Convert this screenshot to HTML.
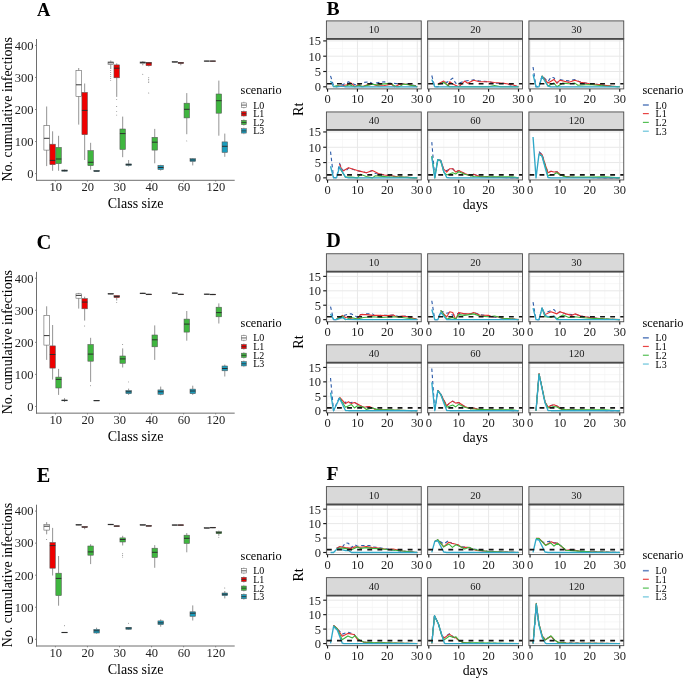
<!DOCTYPE html>
<html><head><meta charset="utf-8"><style>
html,body{margin:0;padding:0;background:#fff;}
svg{display:block;font-family:"Liberation Serif", serif;filter:blur(0.35px);}
</style></head><body>
<svg width="685" height="678" viewBox="0 0 685 678">
<rect width="685" height="678" fill="#fff"/>
<text x="36.9" y="15.5" font-size="18.5" font-weight="bold" fill="#000">A</text>
<line x1="36.5" y1="39" x2="36.5" y2="180.8" stroke="#6e6e6e" stroke-width="1"/>
<line x1="36" y1="180.3" x2="234.7" y2="180.3" stroke="#6e6e6e" stroke-width="1"/>
<line x1="35" y1="173.6" x2="36.5" y2="173.6" stroke="#6e6e6e" stroke-width="0.8"/>
<text x="33.6" y="177.9" font-size="12.5" fill="#1e1e1e" text-anchor="end">0</text>
<line x1="35" y1="141.55" x2="36.5" y2="141.55" stroke="#6e6e6e" stroke-width="0.8"/>
<text x="33.6" y="145.85" font-size="12.5" fill="#1e1e1e" text-anchor="end">100</text>
<line x1="35" y1="109.5" x2="36.5" y2="109.5" stroke="#6e6e6e" stroke-width="0.8"/>
<text x="33.6" y="113.8" font-size="12.5" fill="#1e1e1e" text-anchor="end">200</text>
<line x1="35" y1="77.45" x2="36.5" y2="77.45" stroke="#6e6e6e" stroke-width="0.8"/>
<text x="33.6" y="81.75" font-size="12.5" fill="#1e1e1e" text-anchor="end">300</text>
<line x1="35" y1="45.4" x2="36.5" y2="45.4" stroke="#6e6e6e" stroke-width="0.8"/>
<text x="33.6" y="49.7" font-size="12.5" fill="#1e1e1e" text-anchor="end">400</text>
<line x1="55.4" y1="180.3" x2="55.4" y2="181.6" stroke="#6e6e6e" stroke-width="0.8"/>
<text x="55.7" y="191.3" font-size="12.5" fill="#1e1e1e" text-anchor="middle">10</text>
<line x1="87.45" y1="180.3" x2="87.45" y2="181.6" stroke="#6e6e6e" stroke-width="0.8"/>
<text x="87.75" y="191.3" font-size="12.5" fill="#1e1e1e" text-anchor="middle">20</text>
<line x1="119.5" y1="180.3" x2="119.5" y2="181.6" stroke="#6e6e6e" stroke-width="0.8"/>
<text x="119.8" y="191.3" font-size="12.5" fill="#1e1e1e" text-anchor="middle">30</text>
<line x1="151.55" y1="180.3" x2="151.55" y2="181.6" stroke="#6e6e6e" stroke-width="0.8"/>
<text x="151.85" y="191.3" font-size="12.5" fill="#1e1e1e" text-anchor="middle">40</text>
<line x1="183.6" y1="180.3" x2="183.6" y2="181.6" stroke="#6e6e6e" stroke-width="0.8"/>
<text x="183.9" y="191.3" font-size="12.5" fill="#1e1e1e" text-anchor="middle">60</text>
<line x1="215.65" y1="180.3" x2="215.65" y2="181.6" stroke="#6e6e6e" stroke-width="0.8"/>
<text x="215.95" y="191.3" font-size="12.5" fill="#1e1e1e" text-anchor="middle">120</text>
<text x="135.6" y="208.3" font-size="14" fill="#000" text-anchor="middle">Class size</text>
<text transform="translate(12.1,109.3) rotate(-90)" font-size="13.95" fill="#000" text-anchor="middle">No. cumulative infections</text>
<line x1="46.66" y1="106.5" x2="46.66" y2="125.7" stroke="#666" stroke-width="0.7"/>
<line x1="46.66" y1="150.1" x2="46.66" y2="166.1" stroke="#666" stroke-width="0.7"/>
<rect x="43.91" y="125.7" width="5.5" height="24.4" fill="#ffffff" stroke="#555" stroke-width="0.55"/>
<line x1="43.91" y1="138.3" x2="49.41" y2="138.3" stroke="#2a2a2a" stroke-width="0.95"/>
<line x1="52.62" y1="131.3" x2="52.62" y2="144.2" stroke="#666" stroke-width="0.7"/>
<line x1="52.62" y1="164.7" x2="52.62" y2="170.8" stroke="#666" stroke-width="0.7"/>
<rect x="49.87" y="144.2" width="5.5" height="20.5" fill="#ee0000" stroke="#555" stroke-width="0.55"/>
<line x1="49.87" y1="160.4" x2="55.37" y2="160.4" stroke="#2a2a2a" stroke-width="0.95"/>
<line x1="58.58" y1="135.8" x2="58.58" y2="147.4" stroke="#666" stroke-width="0.7"/>
<line x1="58.58" y1="163.7" x2="58.58" y2="170.8" stroke="#666" stroke-width="0.7"/>
<rect x="55.83" y="147.4" width="5.5" height="16.3" fill="#3fb63f" stroke="#555" stroke-width="0.55"/>
<line x1="55.83" y1="159" x2="61.33" y2="159" stroke="#2a2a2a" stroke-width="0.95"/>
<line x1="64.54" y1="169.5" x2="64.54" y2="170" stroke="#666" stroke-width="0.7"/>
<line x1="64.54" y1="171.2" x2="64.54" y2="171.6" stroke="#666" stroke-width="0.7"/>
<rect x="61.79" y="170" width="5.5" height="1.2" fill="#1a9cbc" stroke="#555" stroke-width="0.55"/>
<line x1="61.79" y1="170.6" x2="67.29" y2="170.6" stroke="#2a2a2a" stroke-width="0.95"/>
<line x1="78.71" y1="68" x2="78.71" y2="70.6" stroke="#666" stroke-width="0.7"/>
<line x1="78.71" y1="96.3" x2="78.71" y2="124.6" stroke="#666" stroke-width="0.7"/>
<rect x="75.96" y="70.6" width="5.5" height="25.7" fill="#ffffff" stroke="#555" stroke-width="0.55"/>
<line x1="75.96" y1="84.8" x2="81.46" y2="84.8" stroke="#2a2a2a" stroke-width="0.95"/>
<line x1="84.67" y1="83.5" x2="84.67" y2="92.4" stroke="#666" stroke-width="0.7"/>
<line x1="84.67" y1="134.7" x2="84.67" y2="160" stroke="#666" stroke-width="0.7"/>
<rect x="81.92" y="92.4" width="5.5" height="42.3" fill="#ee0000" stroke="#555" stroke-width="0.55"/>
<line x1="81.92" y1="110.4" x2="87.42" y2="110.4" stroke="#2a2a2a" stroke-width="0.95"/>
<line x1="90.63" y1="142.8" x2="90.63" y2="150.6" stroke="#666" stroke-width="0.7"/>
<line x1="90.63" y1="165.7" x2="90.63" y2="169.7" stroke="#666" stroke-width="0.7"/>
<rect x="87.88" y="150.6" width="5.5" height="15.1" fill="#3fb63f" stroke="#555" stroke-width="0.55"/>
<line x1="87.88" y1="162.3" x2="93.38" y2="162.3" stroke="#2a2a2a" stroke-width="0.95"/>
<line x1="96.59" y1="170.3" x2="96.59" y2="170.5" stroke="#666" stroke-width="0.7"/>
<line x1="96.59" y1="171.5" x2="96.59" y2="171.8" stroke="#666" stroke-width="0.7"/>
<rect x="93.84" y="170.5" width="5.5" height="1" fill="#1a9cbc" stroke="#555" stroke-width="0.55"/>
<line x1="93.84" y1="171" x2="99.34" y2="171" stroke="#2a2a2a" stroke-width="0.95"/>
<line x1="110.76" y1="60.5" x2="110.76" y2="61.9" stroke="#666" stroke-width="0.7"/>
<line x1="110.76" y1="64.4" x2="110.76" y2="69" stroke="#666" stroke-width="0.7"/>
<rect x="108.01" y="61.9" width="5.5" height="2.5" fill="#ffffff" stroke="#555" stroke-width="0.55"/>
<line x1="108.01" y1="62.8" x2="113.51" y2="62.8" stroke="#2a2a2a" stroke-width="0.95"/>
<circle cx="110.76" cy="70.5" r="0.45" fill="#444"/>
<circle cx="110.76" cy="72.5" r="0.45" fill="#444"/>
<circle cx="110.76" cy="74.5" r="0.45" fill="#444"/>
<circle cx="110.76" cy="76.5" r="0.45" fill="#444"/>
<circle cx="110.76" cy="78.5" r="0.45" fill="#444"/>
<circle cx="110.76" cy="80.6" r="0.45" fill="#444"/>
<line x1="116.72" y1="63.4" x2="116.72" y2="64.9" stroke="#666" stroke-width="0.7"/>
<line x1="116.72" y1="77.8" x2="116.72" y2="96.9" stroke="#666" stroke-width="0.7"/>
<rect x="113.97" y="64.9" width="5.5" height="12.9" fill="#ee0000" stroke="#555" stroke-width="0.55"/>
<line x1="113.97" y1="68.2" x2="119.47" y2="68.2" stroke="#2a2a2a" stroke-width="0.95"/>
<circle cx="116.72" cy="99.4" r="0.45" fill="#444"/>
<circle cx="116.72" cy="106.5" r="0.45" fill="#444"/>
<circle cx="116.72" cy="111.6" r="0.45" fill="#444"/>
<circle cx="116.72" cy="115.1" r="0.45" fill="#444"/>
<line x1="122.68" y1="116.6" x2="122.68" y2="129" stroke="#666" stroke-width="0.7"/>
<line x1="122.68" y1="149.5" x2="122.68" y2="157.2" stroke="#666" stroke-width="0.7"/>
<rect x="119.93" y="129" width="5.5" height="20.5" fill="#3fb63f" stroke="#555" stroke-width="0.55"/>
<line x1="119.93" y1="133.6" x2="125.43" y2="133.6" stroke="#2a2a2a" stroke-width="0.95"/>
<line x1="128.64" y1="160" x2="128.64" y2="163.9" stroke="#666" stroke-width="0.7"/>
<line x1="128.64" y1="165.4" x2="128.64" y2="166.5" stroke="#666" stroke-width="0.7"/>
<rect x="125.89" y="163.9" width="5.5" height="1.5" fill="#1a9cbc" stroke="#555" stroke-width="0.55"/>
<line x1="125.89" y1="164.6" x2="131.39" y2="164.6" stroke="#2a2a2a" stroke-width="0.95"/>
<line x1="142.81" y1="61" x2="142.81" y2="61.9" stroke="#666" stroke-width="0.7"/>
<line x1="142.81" y1="63.5" x2="142.81" y2="65.3" stroke="#666" stroke-width="0.7"/>
<rect x="140.06" y="61.9" width="5.5" height="1.6" fill="#ffffff" stroke="#555" stroke-width="0.55"/>
<line x1="140.06" y1="62.5" x2="145.56" y2="62.5" stroke="#2a2a2a" stroke-width="0.95"/>
<circle cx="142.81" cy="74.3" r="0.45" fill="#444"/>
<line x1="148.77" y1="62" x2="148.77" y2="62.4" stroke="#666" stroke-width="0.7"/>
<line x1="148.77" y1="65.7" x2="148.77" y2="66.5" stroke="#666" stroke-width="0.7"/>
<rect x="146.02" y="62.4" width="5.5" height="3.3" fill="#ee0000" stroke="#555" stroke-width="0.55"/>
<line x1="146.02" y1="63" x2="151.52" y2="63" stroke="#2a2a2a" stroke-width="0.95"/>
<circle cx="148.77" cy="77.7" r="0.45" fill="#444"/>
<circle cx="148.77" cy="79.5" r="0.45" fill="#444"/>
<circle cx="148.77" cy="81" r="0.45" fill="#444"/>
<circle cx="148.77" cy="82.5" r="0.45" fill="#444"/>
<circle cx="148.77" cy="93" r="0.45" fill="#444"/>
<line x1="154.73" y1="128.9" x2="154.73" y2="137.3" stroke="#666" stroke-width="0.7"/>
<line x1="154.73" y1="150.1" x2="154.73" y2="163.3" stroke="#666" stroke-width="0.7"/>
<rect x="151.98" y="137.3" width="5.5" height="12.8" fill="#3fb63f" stroke="#555" stroke-width="0.55"/>
<line x1="151.98" y1="142.2" x2="157.48" y2="142.2" stroke="#2a2a2a" stroke-width="0.95"/>
<line x1="160.69" y1="164.8" x2="160.69" y2="165.4" stroke="#666" stroke-width="0.7"/>
<line x1="160.69" y1="169.6" x2="160.69" y2="170.6" stroke="#666" stroke-width="0.7"/>
<rect x="157.94" y="165.4" width="5.5" height="4.2" fill="#1a9cbc" stroke="#555" stroke-width="0.55"/>
<line x1="157.94" y1="167.5" x2="163.44" y2="167.5" stroke="#2a2a2a" stroke-width="0.95"/>
<line x1="174.86" y1="61.3" x2="174.86" y2="61.6" stroke="#666" stroke-width="0.7"/>
<line x1="174.86" y1="62.3" x2="174.86" y2="62.6" stroke="#666" stroke-width="0.7"/>
<rect x="172.11" y="61.6" width="5.5" height="0.7" fill="#ffffff" stroke="#555" stroke-width="0.55"/>
<line x1="172.11" y1="61.9" x2="177.61" y2="61.9" stroke="#2a2a2a" stroke-width="0.95"/>
<line x1="180.82" y1="62" x2="180.82" y2="62.4" stroke="#666" stroke-width="0.7"/>
<line x1="180.82" y1="63.4" x2="180.82" y2="65.3" stroke="#666" stroke-width="0.7"/>
<rect x="178.07" y="62.4" width="5.5" height="1" fill="#ee0000" stroke="#555" stroke-width="0.55"/>
<line x1="178.07" y1="62.9" x2="183.57" y2="62.9" stroke="#2a2a2a" stroke-width="0.95"/>
<line x1="186.78" y1="93.1" x2="186.78" y2="103.2" stroke="#666" stroke-width="0.7"/>
<line x1="186.78" y1="117.9" x2="186.78" y2="134.2" stroke="#666" stroke-width="0.7"/>
<rect x="184.03" y="103.2" width="5.5" height="14.7" fill="#3fb63f" stroke="#555" stroke-width="0.55"/>
<line x1="184.03" y1="109.3" x2="189.53" y2="109.3" stroke="#2a2a2a" stroke-width="0.95"/>
<circle cx="186.78" cy="140.9" r="0.45" fill="#444"/>
<line x1="192.74" y1="158.1" x2="192.74" y2="158.7" stroke="#666" stroke-width="0.7"/>
<line x1="192.74" y1="161.4" x2="192.74" y2="165.4" stroke="#666" stroke-width="0.7"/>
<rect x="189.99" y="158.7" width="5.5" height="2.7" fill="#1a9cbc" stroke="#555" stroke-width="0.55"/>
<line x1="189.99" y1="160" x2="195.49" y2="160" stroke="#2a2a2a" stroke-width="0.95"/>
<line x1="206.91" y1="60.7" x2="206.91" y2="60.9" stroke="#666" stroke-width="0.7"/>
<line x1="206.91" y1="61.4" x2="206.91" y2="61.6" stroke="#666" stroke-width="0.7"/>
<rect x="204.16" y="60.9" width="5.5" height="0.5" fill="#ffffff" stroke="#555" stroke-width="0.55"/>
<line x1="204.16" y1="61.1" x2="209.66" y2="61.1" stroke="#2a2a2a" stroke-width="0.95"/>
<line x1="212.87" y1="60.7" x2="212.87" y2="60.9" stroke="#666" stroke-width="0.7"/>
<line x1="212.87" y1="61.4" x2="212.87" y2="61.6" stroke="#666" stroke-width="0.7"/>
<rect x="210.12" y="60.9" width="5.5" height="0.5" fill="#ee0000" stroke="#555" stroke-width="0.55"/>
<line x1="210.12" y1="61.1" x2="215.62" y2="61.1" stroke="#2a2a2a" stroke-width="0.95"/>
<line x1="218.83" y1="80.6" x2="218.83" y2="94" stroke="#666" stroke-width="0.7"/>
<line x1="218.83" y1="113.2" x2="218.83" y2="135.7" stroke="#666" stroke-width="0.7"/>
<rect x="216.08" y="94" width="5.5" height="19.2" fill="#3fb63f" stroke="#555" stroke-width="0.55"/>
<line x1="216.08" y1="100.7" x2="221.58" y2="100.7" stroke="#2a2a2a" stroke-width="0.95"/>
<line x1="224.79" y1="133.6" x2="224.79" y2="141.9" stroke="#666" stroke-width="0.7"/>
<line x1="224.79" y1="152.4" x2="224.79" y2="156.8" stroke="#666" stroke-width="0.7"/>
<rect x="222.04" y="141.9" width="5.5" height="10.5" fill="#1a9cbc" stroke="#555" stroke-width="0.55"/>
<line x1="222.04" y1="146.3" x2="227.54" y2="146.3" stroke="#2a2a2a" stroke-width="0.95"/>
<text x="240.6" y="94.1" font-size="12.3" fill="#000">scenario</text>
<line x1="243.85" y1="101.7" x2="243.85" y2="108.5" stroke="#777" stroke-width="0.5"/>
<rect x="241.4" y="102.9" width="4.9" height="4.4" fill="#ffffff" stroke="#555" stroke-width="0.5"/>
<line x1="241.4" y1="105.1" x2="246.3" y2="105.1" stroke="#333" stroke-width="0.8"/>
<text x="253.2" y="108.5" font-size="10" fill="#000">L0</text>
<line x1="243.85" y1="110.35" x2="243.85" y2="117.15" stroke="#777" stroke-width="0.5"/>
<rect x="241.4" y="111.55" width="4.9" height="4.4" fill="#ee0000" stroke="#555" stroke-width="0.5"/>
<line x1="241.4" y1="113.75" x2="246.3" y2="113.75" stroke="#333" stroke-width="0.8"/>
<text x="253.2" y="117.15" font-size="10" fill="#000">L1</text>
<line x1="243.85" y1="119.1" x2="243.85" y2="125.9" stroke="#777" stroke-width="0.5"/>
<rect x="241.4" y="120.3" width="4.9" height="4.4" fill="#3fb63f" stroke="#555" stroke-width="0.5"/>
<line x1="241.4" y1="122.5" x2="246.3" y2="122.5" stroke="#333" stroke-width="0.8"/>
<text x="253.2" y="125.9" font-size="10" fill="#000">L2</text>
<line x1="243.85" y1="127.5" x2="243.85" y2="134.3" stroke="#777" stroke-width="0.5"/>
<rect x="241.4" y="128.7" width="4.9" height="4.4" fill="#1a9cbc" stroke="#555" stroke-width="0.5"/>
<line x1="241.4" y1="130.9" x2="246.3" y2="130.9" stroke="#333" stroke-width="0.8"/>
<text x="253.2" y="134.3" font-size="10" fill="#000">L3</text>
<text x="326.4" y="14.5" font-size="19.6" font-weight="bold" fill="#000">B</text>
<rect x="326.4" y="38.8" width="94.85" height="50.1" fill="#fff"/>
<line x1="326.4" y1="79.15" x2="421.25" y2="79.15" stroke="#f3f3f3" stroke-width="0.6"/>
<line x1="326.4" y1="63.85" x2="421.25" y2="63.85" stroke="#f3f3f3" stroke-width="0.6"/>
<line x1="326.4" y1="48.55" x2="421.25" y2="48.55" stroke="#f3f3f3" stroke-width="0.6"/>
<line x1="342.5" y1="38.8" x2="342.5" y2="88.9" stroke="#f3f3f3" stroke-width="0.6"/>
<line x1="372.4" y1="38.8" x2="372.4" y2="88.9" stroke="#f3f3f3" stroke-width="0.6"/>
<line x1="402.3" y1="38.8" x2="402.3" y2="88.9" stroke="#f3f3f3" stroke-width="0.6"/>
<line x1="326.4" y1="86.8" x2="421.25" y2="86.8" stroke="#e8e8e8" stroke-width="1"/>
<line x1="326.4" y1="71.5" x2="421.25" y2="71.5" stroke="#e8e8e8" stroke-width="1"/>
<line x1="326.4" y1="56.2" x2="421.25" y2="56.2" stroke="#e8e8e8" stroke-width="1"/>
<line x1="326.4" y1="40.9" x2="421.25" y2="40.9" stroke="#e8e8e8" stroke-width="1"/>
<line x1="327.55" y1="38.8" x2="327.55" y2="88.9" stroke="#e8e8e8" stroke-width="1"/>
<line x1="357.45" y1="38.8" x2="357.45" y2="88.9" stroke="#e8e8e8" stroke-width="1"/>
<line x1="387.35" y1="38.8" x2="387.35" y2="88.9" stroke="#e8e8e8" stroke-width="1"/>
<line x1="417.25" y1="38.8" x2="417.25" y2="88.9" stroke="#e8e8e8" stroke-width="1"/>
<polyline points="330.54,75.94 333.53,85.43 336.52,86.8 342.5,84.7 348.48,81.78 351.47,83.24 357.45,85.43 363.43,82.51 369.41,81.78 372.4,83.68 378.38,82.51 384.36,81.78 387.35,83.24 393.33,83.24 399.31,83.97 405.29,83.68 411.27,84.7 417.25,86.16" fill="none" stroke="#2c5aa8" stroke-width="1.1" stroke-dasharray="3.4,2.8" stroke-linejoin="round"/>
<polyline points="336.52,86.16 342.5,85.72 346.98,84.7 350.87,82.8 355.36,86.8 358.35,84.7 361.93,86.8 367.32,84.84 372.4,84.26 378.38,86.01 384.36,85.43 391.54,84.26 394.53,86.8 399.31,84.55 403.5,83.97 408.28,84.55 414.26,85.87 417.25,86.8" fill="none" stroke="#e53030" stroke-width="1.1" stroke-linejoin="round"/>
<polyline points="333.53,86.6 336.52,85.87 341,86.45 345.49,86.3 349.38,84.7 354.46,86.8 358.94,85.57 363.43,86.6 367.91,85.14 372.4,84.26 378.38,85.14 381.37,84.11 390.34,83.38 396.32,86.8 399.31,86.6 403.5,84.11 408.28,84.7 414.26,85.87 417.25,86.8" fill="none" stroke="#3cb43c" stroke-width="1.1" stroke-linejoin="round"/>
<polyline points="330.54,81.05 333.53,86.6 336.52,86.8 342.5,86.16 345.49,86.8 417.25,86.8" fill="none" stroke="#30a8c8" stroke-width="1.35" stroke-linejoin="round"/>
<line x1="326.4" y1="83.74" x2="421.25" y2="83.74" stroke="#151515" stroke-width="1.7" stroke-dasharray="4.85,5.25" stroke-dashoffset="9.6"/>
<rect x="326.4" y="38.8" width="94.85" height="50.1" fill="none" stroke="#4a4a4a" stroke-width="0.9"/>
<rect x="326.4" y="20.9" width="94.85" height="17.9" fill="#d9d9d9" stroke="#4a4a4a" stroke-width="0.9"/>
<line x1="326.4" y1="38.8" x2="421.25" y2="38.8" stroke="#4a4a4a" stroke-width="1.8"/>
<text x="374.12" y="33.25" font-size="10.5" fill="#1a1a1a" text-anchor="middle">10</text>
<line x1="327.55" y1="88.9" x2="327.55" y2="91.7" stroke="#1a1a1a" stroke-width="1.15"/>
<text x="327.55" y="103" font-size="12.5" fill="#1e1e1e" text-anchor="middle">0</text>
<line x1="357.45" y1="88.9" x2="357.45" y2="91.7" stroke="#1a1a1a" stroke-width="1.15"/>
<text x="357.45" y="103" font-size="12.5" fill="#1e1e1e" text-anchor="middle">10</text>
<line x1="387.35" y1="88.9" x2="387.35" y2="91.7" stroke="#1a1a1a" stroke-width="1.15"/>
<text x="387.35" y="103" font-size="12.5" fill="#1e1e1e" text-anchor="middle">20</text>
<line x1="417.25" y1="88.9" x2="417.25" y2="91.7" stroke="#1a1a1a" stroke-width="1.15"/>
<text x="417.25" y="103" font-size="12.5" fill="#1e1e1e" text-anchor="middle">30</text>
<rect x="427.65" y="38.8" width="94.85" height="50.1" fill="#fff"/>
<line x1="427.65" y1="79.15" x2="522.5" y2="79.15" stroke="#f3f3f3" stroke-width="0.6"/>
<line x1="427.65" y1="63.85" x2="522.5" y2="63.85" stroke="#f3f3f3" stroke-width="0.6"/>
<line x1="427.65" y1="48.55" x2="522.5" y2="48.55" stroke="#f3f3f3" stroke-width="0.6"/>
<line x1="443.75" y1="38.8" x2="443.75" y2="88.9" stroke="#f3f3f3" stroke-width="0.6"/>
<line x1="473.65" y1="38.8" x2="473.65" y2="88.9" stroke="#f3f3f3" stroke-width="0.6"/>
<line x1="503.55" y1="38.8" x2="503.55" y2="88.9" stroke="#f3f3f3" stroke-width="0.6"/>
<line x1="427.65" y1="86.8" x2="522.5" y2="86.8" stroke="#e8e8e8" stroke-width="1"/>
<line x1="427.65" y1="71.5" x2="522.5" y2="71.5" stroke="#e8e8e8" stroke-width="1"/>
<line x1="427.65" y1="56.2" x2="522.5" y2="56.2" stroke="#e8e8e8" stroke-width="1"/>
<line x1="427.65" y1="40.9" x2="522.5" y2="40.9" stroke="#e8e8e8" stroke-width="1"/>
<line x1="428.8" y1="38.8" x2="428.8" y2="88.9" stroke="#e8e8e8" stroke-width="1"/>
<line x1="458.7" y1="38.8" x2="458.7" y2="88.9" stroke="#e8e8e8" stroke-width="1"/>
<line x1="488.6" y1="38.8" x2="488.6" y2="88.9" stroke="#e8e8e8" stroke-width="1"/>
<line x1="518.5" y1="38.8" x2="518.5" y2="88.9" stroke="#e8e8e8" stroke-width="1"/>
<polyline points="431.79,75.5 434.78,86.8 437.77,86.8 443.75,81.05 446.74,82.51 452.72,78.13 455.71,83.24 458.7,83.24 464.68,81.05 470.66,80.32 473.65,79.88 479.63,81.05 488.6,81.78 494.58,83.24 503.55,83.24 509.53,84.7 518.5,86.8" fill="none" stroke="#2c5aa8" stroke-width="1.1" stroke-dasharray="3.4,2.8" stroke-linejoin="round"/>
<polyline points="437.77,83.97 443.75,81.05 448.23,86.16 449.73,81.78 452.72,83.97 458.7,86.8 464.68,81.05 467.67,83.24 473.65,80.32 479.63,81.78 488.6,81.78 494.58,82.51 503.55,83.24 512.52,84.7 518.5,86.8" fill="none" stroke="#e53030" stroke-width="1.1" stroke-linejoin="round"/>
<polyline points="437.77,84.7 443.75,82.51 449.73,86.8 458.7,86.8 473.65,86.8 488.6,86.8 494.58,85.43 500.56,86.8 518.5,86.8" fill="none" stroke="#3cb43c" stroke-width="1.1" stroke-linejoin="round"/>
<polyline points="431.79,79.59 434.78,86.8 437.77,86.8 443.75,86.8 518.5,86.8" fill="none" stroke="#30a8c8" stroke-width="1.35" stroke-linejoin="round"/>
<line x1="427.65" y1="83.74" x2="522.5" y2="83.74" stroke="#151515" stroke-width="1.7" stroke-dasharray="4.85,5.25" stroke-dashoffset="9.6"/>
<rect x="427.65" y="38.8" width="94.85" height="50.1" fill="none" stroke="#4a4a4a" stroke-width="0.9"/>
<rect x="427.65" y="20.9" width="94.85" height="17.9" fill="#d9d9d9" stroke="#4a4a4a" stroke-width="0.9"/>
<line x1="427.65" y1="38.8" x2="522.5" y2="38.8" stroke="#4a4a4a" stroke-width="1.8"/>
<text x="475.38" y="33.25" font-size="10.5" fill="#1a1a1a" text-anchor="middle">20</text>
<line x1="428.8" y1="88.9" x2="428.8" y2="91.7" stroke="#1a1a1a" stroke-width="1.15"/>
<text x="428.8" y="103" font-size="12.5" fill="#1e1e1e" text-anchor="middle">0</text>
<line x1="458.7" y1="88.9" x2="458.7" y2="91.7" stroke="#1a1a1a" stroke-width="1.15"/>
<text x="458.7" y="103" font-size="12.5" fill="#1e1e1e" text-anchor="middle">10</text>
<line x1="488.6" y1="88.9" x2="488.6" y2="91.7" stroke="#1a1a1a" stroke-width="1.15"/>
<text x="488.6" y="103" font-size="12.5" fill="#1e1e1e" text-anchor="middle">20</text>
<line x1="518.5" y1="88.9" x2="518.5" y2="91.7" stroke="#1a1a1a" stroke-width="1.15"/>
<text x="518.5" y="103" font-size="12.5" fill="#1e1e1e" text-anchor="middle">30</text>
<rect x="528.9" y="38.8" width="94.85" height="50.1" fill="#fff"/>
<line x1="528.9" y1="79.15" x2="623.75" y2="79.15" stroke="#f3f3f3" stroke-width="0.6"/>
<line x1="528.9" y1="63.85" x2="623.75" y2="63.85" stroke="#f3f3f3" stroke-width="0.6"/>
<line x1="528.9" y1="48.55" x2="623.75" y2="48.55" stroke="#f3f3f3" stroke-width="0.6"/>
<line x1="545" y1="38.8" x2="545" y2="88.9" stroke="#f3f3f3" stroke-width="0.6"/>
<line x1="574.9" y1="38.8" x2="574.9" y2="88.9" stroke="#f3f3f3" stroke-width="0.6"/>
<line x1="604.8" y1="38.8" x2="604.8" y2="88.9" stroke="#f3f3f3" stroke-width="0.6"/>
<line x1="528.9" y1="86.8" x2="623.75" y2="86.8" stroke="#e8e8e8" stroke-width="1"/>
<line x1="528.9" y1="71.5" x2="623.75" y2="71.5" stroke="#e8e8e8" stroke-width="1"/>
<line x1="528.9" y1="56.2" x2="623.75" y2="56.2" stroke="#e8e8e8" stroke-width="1"/>
<line x1="528.9" y1="40.9" x2="623.75" y2="40.9" stroke="#e8e8e8" stroke-width="1"/>
<line x1="530.05" y1="38.8" x2="530.05" y2="88.9" stroke="#e8e8e8" stroke-width="1"/>
<line x1="559.95" y1="38.8" x2="559.95" y2="88.9" stroke="#e8e8e8" stroke-width="1"/>
<line x1="589.85" y1="38.8" x2="589.85" y2="88.9" stroke="#e8e8e8" stroke-width="1"/>
<line x1="619.75" y1="38.8" x2="619.75" y2="88.9" stroke="#e8e8e8" stroke-width="1"/>
<polyline points="533.04,67.02 536.03,86.8 539.02,86.8 542.01,75.78 547.99,81.62 550.98,77.24 553.97,77.68 556.96,83.08 559.95,79.43 562.94,80.16 568.92,80.89 574.9,79.43 580.88,82.35 589.85,83.81 598.82,84.54 607.79,86 619.75,86.8" fill="none" stroke="#2c5aa8" stroke-width="1.1" stroke-dasharray="3.4,2.8" stroke-linejoin="round"/>
<polyline points="542.01,75.78 547.99,83.08 553.97,79.43 556.96,83.08 559.95,80.16 568.92,82.35 574.9,80.16 580.88,82.35 589.85,83.81 598.82,84.54 610.78,86 619.75,86.8" fill="none" stroke="#e53030" stroke-width="1.1" stroke-linejoin="round"/>
<polyline points="542.01,75.78 547.99,86 553.97,83.08 556.96,86.73 562.94,83.08 568.92,83.81 574.9,83.08 577.89,85.27 589.85,84.54 604.8,86 619.75,86.8" fill="none" stroke="#3cb43c" stroke-width="1.1" stroke-linejoin="round"/>
<polyline points="533.04,74.32 536.03,86.8 539.02,86.8 542.01,76.51 547.99,86 550.98,86.8 619.75,86.8" fill="none" stroke="#30a8c8" stroke-width="1.35" stroke-linejoin="round"/>
<line x1="528.9" y1="83.74" x2="623.75" y2="83.74" stroke="#151515" stroke-width="1.7" stroke-dasharray="4.85,5.25" stroke-dashoffset="9.6"/>
<rect x="528.9" y="38.8" width="94.85" height="50.1" fill="none" stroke="#4a4a4a" stroke-width="0.9"/>
<rect x="528.9" y="20.9" width="94.85" height="17.9" fill="#d9d9d9" stroke="#4a4a4a" stroke-width="0.9"/>
<line x1="528.9" y1="38.8" x2="623.75" y2="38.8" stroke="#4a4a4a" stroke-width="1.8"/>
<text x="576.62" y="33.25" font-size="10.5" fill="#1a1a1a" text-anchor="middle">30</text>
<line x1="530.05" y1="88.9" x2="530.05" y2="91.7" stroke="#1a1a1a" stroke-width="1.15"/>
<text x="530.05" y="103" font-size="12.5" fill="#1e1e1e" text-anchor="middle">0</text>
<line x1="559.95" y1="88.9" x2="559.95" y2="91.7" stroke="#1a1a1a" stroke-width="1.15"/>
<text x="559.95" y="103" font-size="12.5" fill="#1e1e1e" text-anchor="middle">10</text>
<line x1="589.85" y1="88.9" x2="589.85" y2="91.7" stroke="#1a1a1a" stroke-width="1.15"/>
<text x="589.85" y="103" font-size="12.5" fill="#1e1e1e" text-anchor="middle">20</text>
<line x1="619.75" y1="88.9" x2="619.75" y2="91.7" stroke="#1a1a1a" stroke-width="1.15"/>
<text x="619.75" y="103" font-size="12.5" fill="#1e1e1e" text-anchor="middle">30</text>
<line x1="323.2" y1="86.8" x2="326.4" y2="86.8" stroke="#1a1a1a" stroke-width="1.15"/>
<text x="320.9" y="91.2" font-size="12.5" fill="#1e1e1e" text-anchor="end">0</text>
<line x1="323.2" y1="71.5" x2="326.4" y2="71.5" stroke="#1a1a1a" stroke-width="1.15"/>
<text x="320.9" y="75.9" font-size="12.5" fill="#1e1e1e" text-anchor="end">5</text>
<line x1="323.2" y1="56.2" x2="326.4" y2="56.2" stroke="#1a1a1a" stroke-width="1.15"/>
<text x="320.9" y="60.6" font-size="12.5" fill="#1e1e1e" text-anchor="end">10</text>
<line x1="323.2" y1="40.9" x2="326.4" y2="40.9" stroke="#1a1a1a" stroke-width="1.15"/>
<text x="320.9" y="45.3" font-size="12.5" fill="#1e1e1e" text-anchor="end">15</text>
<rect x="326.4" y="129.85" width="94.85" height="50.1" fill="#fff"/>
<line x1="326.4" y1="170.2" x2="421.25" y2="170.2" stroke="#f3f3f3" stroke-width="0.6"/>
<line x1="326.4" y1="154.9" x2="421.25" y2="154.9" stroke="#f3f3f3" stroke-width="0.6"/>
<line x1="326.4" y1="139.6" x2="421.25" y2="139.6" stroke="#f3f3f3" stroke-width="0.6"/>
<line x1="342.5" y1="129.85" x2="342.5" y2="179.95" stroke="#f3f3f3" stroke-width="0.6"/>
<line x1="372.4" y1="129.85" x2="372.4" y2="179.95" stroke="#f3f3f3" stroke-width="0.6"/>
<line x1="402.3" y1="129.85" x2="402.3" y2="179.95" stroke="#f3f3f3" stroke-width="0.6"/>
<line x1="326.4" y1="177.85" x2="421.25" y2="177.85" stroke="#e8e8e8" stroke-width="1"/>
<line x1="326.4" y1="162.55" x2="421.25" y2="162.55" stroke="#e8e8e8" stroke-width="1"/>
<line x1="326.4" y1="147.25" x2="421.25" y2="147.25" stroke="#e8e8e8" stroke-width="1"/>
<line x1="326.4" y1="131.95" x2="421.25" y2="131.95" stroke="#e8e8e8" stroke-width="1"/>
<line x1="327.55" y1="129.85" x2="327.55" y2="179.95" stroke="#e8e8e8" stroke-width="1"/>
<line x1="357.45" y1="129.85" x2="357.45" y2="179.95" stroke="#e8e8e8" stroke-width="1"/>
<line x1="387.35" y1="129.85" x2="387.35" y2="179.95" stroke="#e8e8e8" stroke-width="1"/>
<line x1="417.25" y1="129.85" x2="417.25" y2="179.95" stroke="#e8e8e8" stroke-width="1"/>
<polyline points="330.54,151.62 333.53,177.17 336.52,177.85 339.51,163.3 342.5,169.87 345.49,171.33 348.48,168.11 357.45,170.6 366.42,172.79 372.4,170.6 375.39,173.52 381.37,174.25 387.35,175.71 399.31,176.87 417.25,177.85" fill="none" stroke="#2c5aa8" stroke-width="1.1" stroke-dasharray="3.4,2.8" stroke-linejoin="round"/>
<polyline points="339.51,164.03 342.5,171.33 348.48,167.68 357.45,170.6 366.42,172.79 372.4,170.6 378.38,173.52 384.36,174.98 393.33,176 399.31,177.17 417.25,177.85" fill="none" stroke="#e53030" stroke-width="1.1" stroke-linejoin="round"/>
<polyline points="339.51,167.68 345.49,177.17 351.47,177.17 357.45,177.85 360.44,174.25 366.42,176.44 372.4,177.85 375.39,175.71 387.35,176.87 402.3,177.17 417.25,177.85" fill="none" stroke="#3cb43c" stroke-width="1.1" stroke-linejoin="round"/>
<polyline points="330.54,166.22 333.53,177.85 336.52,177.85 339.51,166.95 345.49,177.17 348.48,177.85 417.25,177.85" fill="none" stroke="#30a8c8" stroke-width="1.35" stroke-linejoin="round"/>
<line x1="326.4" y1="174.79" x2="421.25" y2="174.79" stroke="#151515" stroke-width="1.7" stroke-dasharray="4.85,5.25" stroke-dashoffset="9.6"/>
<rect x="326.4" y="129.85" width="94.85" height="50.1" fill="none" stroke="#4a4a4a" stroke-width="0.9"/>
<rect x="326.4" y="111.95" width="94.85" height="17.9" fill="#d9d9d9" stroke="#4a4a4a" stroke-width="0.9"/>
<line x1="326.4" y1="129.85" x2="421.25" y2="129.85" stroke="#4a4a4a" stroke-width="1.8"/>
<text x="374.12" y="124.3" font-size="10.5" fill="#1a1a1a" text-anchor="middle">40</text>
<line x1="327.55" y1="179.95" x2="327.55" y2="182.75" stroke="#1a1a1a" stroke-width="1.15"/>
<text x="327.55" y="194.05" font-size="12.5" fill="#1e1e1e" text-anchor="middle">0</text>
<line x1="357.45" y1="179.95" x2="357.45" y2="182.75" stroke="#1a1a1a" stroke-width="1.15"/>
<text x="357.45" y="194.05" font-size="12.5" fill="#1e1e1e" text-anchor="middle">10</text>
<line x1="387.35" y1="179.95" x2="387.35" y2="182.75" stroke="#1a1a1a" stroke-width="1.15"/>
<text x="387.35" y="194.05" font-size="12.5" fill="#1e1e1e" text-anchor="middle">20</text>
<line x1="417.25" y1="179.95" x2="417.25" y2="182.75" stroke="#1a1a1a" stroke-width="1.15"/>
<text x="417.25" y="194.05" font-size="12.5" fill="#1e1e1e" text-anchor="middle">30</text>
<rect x="427.65" y="129.85" width="94.85" height="50.1" fill="#fff"/>
<line x1="427.65" y1="170.2" x2="522.5" y2="170.2" stroke="#f3f3f3" stroke-width="0.6"/>
<line x1="427.65" y1="154.9" x2="522.5" y2="154.9" stroke="#f3f3f3" stroke-width="0.6"/>
<line x1="427.65" y1="139.6" x2="522.5" y2="139.6" stroke="#f3f3f3" stroke-width="0.6"/>
<line x1="443.75" y1="129.85" x2="443.75" y2="179.95" stroke="#f3f3f3" stroke-width="0.6"/>
<line x1="473.65" y1="129.85" x2="473.65" y2="179.95" stroke="#f3f3f3" stroke-width="0.6"/>
<line x1="503.55" y1="129.85" x2="503.55" y2="179.95" stroke="#f3f3f3" stroke-width="0.6"/>
<line x1="427.65" y1="177.85" x2="522.5" y2="177.85" stroke="#e8e8e8" stroke-width="1"/>
<line x1="427.65" y1="162.55" x2="522.5" y2="162.55" stroke="#e8e8e8" stroke-width="1"/>
<line x1="427.65" y1="147.25" x2="522.5" y2="147.25" stroke="#e8e8e8" stroke-width="1"/>
<line x1="427.65" y1="131.95" x2="522.5" y2="131.95" stroke="#e8e8e8" stroke-width="1"/>
<line x1="428.8" y1="129.85" x2="428.8" y2="179.95" stroke="#e8e8e8" stroke-width="1"/>
<line x1="458.7" y1="129.85" x2="458.7" y2="179.95" stroke="#e8e8e8" stroke-width="1"/>
<line x1="488.6" y1="129.85" x2="488.6" y2="179.95" stroke="#e8e8e8" stroke-width="1"/>
<line x1="518.5" y1="129.85" x2="518.5" y2="179.95" stroke="#e8e8e8" stroke-width="1"/>
<polyline points="431.79,142.13 434.78,177.85 437.77,160.38 440.76,161.11 443.75,169.87 446.74,170.6 449.73,169.14 452.72,168.7 455.71,172.06 458.7,170.6 464.68,173.52 470.66,175.71 473.65,174.25 479.63,176.44 488.6,177.17 518.5,177.85" fill="none" stroke="#2c5aa8" stroke-width="1.1" stroke-dasharray="3.4,2.8" stroke-linejoin="round"/>
<polyline points="437.77,159.65 440.76,160.38 443.75,169.14 446.74,172.06 449.73,168.7 452.72,168.7 455.71,172.06 458.7,170.6 464.68,173.52 470.66,175.71 473.65,174.25 479.63,176.44 488.6,177.17 518.5,177.85" fill="none" stroke="#e53030" stroke-width="1.1" stroke-linejoin="round"/>
<polyline points="431.79,156 434.78,177.85 437.77,159.65 440.76,161.11 443.75,172.06 446.74,174.98 452.72,172.79 455.71,173.95 458.7,171.76 464.68,174.25 473.65,176.44 488.6,176.87 512.52,176.87 518.5,177.85" fill="none" stroke="#3cb43c" stroke-width="1.1" stroke-linejoin="round"/>
<polyline points="431.79,156.73 434.78,177.85 437.77,159.65 440.76,160.38 443.75,171.33 446.74,177.46 449.73,177.85 518.5,177.85" fill="none" stroke="#30a8c8" stroke-width="1.35" stroke-linejoin="round"/>
<line x1="427.65" y1="174.79" x2="522.5" y2="174.79" stroke="#151515" stroke-width="1.7" stroke-dasharray="4.85,5.25" stroke-dashoffset="9.6"/>
<rect x="427.65" y="129.85" width="94.85" height="50.1" fill="none" stroke="#4a4a4a" stroke-width="0.9"/>
<rect x="427.65" y="111.95" width="94.85" height="17.9" fill="#d9d9d9" stroke="#4a4a4a" stroke-width="0.9"/>
<line x1="427.65" y1="129.85" x2="522.5" y2="129.85" stroke="#4a4a4a" stroke-width="1.8"/>
<text x="475.38" y="124.3" font-size="10.5" fill="#1a1a1a" text-anchor="middle">60</text>
<line x1="428.8" y1="179.95" x2="428.8" y2="182.75" stroke="#1a1a1a" stroke-width="1.15"/>
<text x="428.8" y="194.05" font-size="12.5" fill="#1e1e1e" text-anchor="middle">0</text>
<line x1="458.7" y1="179.95" x2="458.7" y2="182.75" stroke="#1a1a1a" stroke-width="1.15"/>
<text x="458.7" y="194.05" font-size="12.5" fill="#1e1e1e" text-anchor="middle">10</text>
<line x1="488.6" y1="179.95" x2="488.6" y2="182.75" stroke="#1a1a1a" stroke-width="1.15"/>
<text x="488.6" y="194.05" font-size="12.5" fill="#1e1e1e" text-anchor="middle">20</text>
<line x1="518.5" y1="179.95" x2="518.5" y2="182.75" stroke="#1a1a1a" stroke-width="1.15"/>
<text x="518.5" y="194.05" font-size="12.5" fill="#1e1e1e" text-anchor="middle">30</text>
<rect x="528.9" y="129.85" width="94.85" height="50.1" fill="#fff"/>
<line x1="528.9" y1="170.2" x2="623.75" y2="170.2" stroke="#f3f3f3" stroke-width="0.6"/>
<line x1="528.9" y1="154.9" x2="623.75" y2="154.9" stroke="#f3f3f3" stroke-width="0.6"/>
<line x1="528.9" y1="139.6" x2="623.75" y2="139.6" stroke="#f3f3f3" stroke-width="0.6"/>
<line x1="545" y1="129.85" x2="545" y2="179.95" stroke="#f3f3f3" stroke-width="0.6"/>
<line x1="574.9" y1="129.85" x2="574.9" y2="179.95" stroke="#f3f3f3" stroke-width="0.6"/>
<line x1="604.8" y1="129.85" x2="604.8" y2="179.95" stroke="#f3f3f3" stroke-width="0.6"/>
<line x1="528.9" y1="177.85" x2="623.75" y2="177.85" stroke="#e8e8e8" stroke-width="1"/>
<line x1="528.9" y1="162.55" x2="623.75" y2="162.55" stroke="#e8e8e8" stroke-width="1"/>
<line x1="528.9" y1="147.25" x2="623.75" y2="147.25" stroke="#e8e8e8" stroke-width="1"/>
<line x1="528.9" y1="131.95" x2="623.75" y2="131.95" stroke="#e8e8e8" stroke-width="1"/>
<line x1="530.05" y1="129.85" x2="530.05" y2="179.95" stroke="#e8e8e8" stroke-width="1"/>
<line x1="559.95" y1="129.85" x2="559.95" y2="179.95" stroke="#e8e8e8" stroke-width="1"/>
<line x1="589.85" y1="129.85" x2="589.85" y2="179.95" stroke="#e8e8e8" stroke-width="1"/>
<line x1="619.75" y1="129.85" x2="619.75" y2="179.95" stroke="#e8e8e8" stroke-width="1"/>
<polyline points="539.02,151.62 542.01,154.54 545,164.03 547.99,172.79 550.98,171.33 553.97,172.06 556.96,171.76 559.95,174.25 565.93,176.87 574.9,177.46 589.85,177.46 604.8,177.85 619.75,177.85" fill="none" stroke="#2c5aa8" stroke-width="1.1" stroke-dasharray="3.4,2.8" stroke-linejoin="round"/>
<polyline points="539.02,153.08 542.01,154.54 545,164.03 547.99,172.79 550.98,171.33 553.97,172.06 556.96,171.76 559.95,174.25 565.93,176.87 574.9,177.46 589.85,177.46 604.8,177.85 619.75,177.85" fill="none" stroke="#e53030" stroke-width="1.1" stroke-linejoin="round"/>
<polyline points="539.02,154.54 542.01,156 545,165.49 547.99,175.71 553.97,174.25 556.96,172.79 559.95,174.98 565.93,176.87 589.85,177.17 604.8,176.87 619.75,177.85" fill="none" stroke="#3cb43c" stroke-width="1.1" stroke-linejoin="round"/>
<polyline points="533.04,137.02 536.03,177.85 539.02,153.81 542.01,156 545,166.95 547.99,177.46 550.98,177.85 619.75,177.85" fill="none" stroke="#30a8c8" stroke-width="1.35" stroke-linejoin="round"/>
<line x1="528.9" y1="174.79" x2="623.75" y2="174.79" stroke="#151515" stroke-width="1.7" stroke-dasharray="4.85,5.25" stroke-dashoffset="9.6"/>
<rect x="528.9" y="129.85" width="94.85" height="50.1" fill="none" stroke="#4a4a4a" stroke-width="0.9"/>
<rect x="528.9" y="111.95" width="94.85" height="17.9" fill="#d9d9d9" stroke="#4a4a4a" stroke-width="0.9"/>
<line x1="528.9" y1="129.85" x2="623.75" y2="129.85" stroke="#4a4a4a" stroke-width="1.8"/>
<text x="576.62" y="124.3" font-size="10.5" fill="#1a1a1a" text-anchor="middle">120</text>
<line x1="530.05" y1="179.95" x2="530.05" y2="182.75" stroke="#1a1a1a" stroke-width="1.15"/>
<text x="530.05" y="194.05" font-size="12.5" fill="#1e1e1e" text-anchor="middle">0</text>
<line x1="559.95" y1="179.95" x2="559.95" y2="182.75" stroke="#1a1a1a" stroke-width="1.15"/>
<text x="559.95" y="194.05" font-size="12.5" fill="#1e1e1e" text-anchor="middle">10</text>
<line x1="589.85" y1="179.95" x2="589.85" y2="182.75" stroke="#1a1a1a" stroke-width="1.15"/>
<text x="589.85" y="194.05" font-size="12.5" fill="#1e1e1e" text-anchor="middle">20</text>
<line x1="619.75" y1="179.95" x2="619.75" y2="182.75" stroke="#1a1a1a" stroke-width="1.15"/>
<text x="619.75" y="194.05" font-size="12.5" fill="#1e1e1e" text-anchor="middle">30</text>
<line x1="323.2" y1="177.85" x2="326.4" y2="177.85" stroke="#1a1a1a" stroke-width="1.15"/>
<text x="320.9" y="182.25" font-size="12.5" fill="#1e1e1e" text-anchor="end">0</text>
<line x1="323.2" y1="162.55" x2="326.4" y2="162.55" stroke="#1a1a1a" stroke-width="1.15"/>
<text x="320.9" y="166.95" font-size="12.5" fill="#1e1e1e" text-anchor="end">5</text>
<line x1="323.2" y1="147.25" x2="326.4" y2="147.25" stroke="#1a1a1a" stroke-width="1.15"/>
<text x="320.9" y="151.65" font-size="12.5" fill="#1e1e1e" text-anchor="end">10</text>
<line x1="323.2" y1="131.95" x2="326.4" y2="131.95" stroke="#1a1a1a" stroke-width="1.15"/>
<text x="320.9" y="136.35" font-size="12.5" fill="#1e1e1e" text-anchor="end">15</text>
<text x="475.3" y="208.8" font-size="13.8" fill="#000" text-anchor="middle">days</text>
<text transform="translate(302.8,109.2) rotate(-90)" font-size="14.2" fill="#000" text-anchor="middle">Rt</text>
<text x="642.5" y="93.7" font-size="12.3" fill="#000">scenario</text>
<line x1="642.9" y1="105" x2="648.8" y2="105" stroke="#6687c2" stroke-width="1.6"/>
<text x="655.6" y="108.5" font-size="10" fill="#000">L0</text>
<line x1="642.9" y1="113.6" x2="648.8" y2="113.6" stroke="#e84444" stroke-width="1.2"/>
<text x="655.6" y="117.1" font-size="10" fill="#000">L1</text>
<line x1="642.9" y1="122.4" x2="648.8" y2="122.4" stroke="#55c055" stroke-width="1.2"/>
<text x="655.6" y="125.9" font-size="10" fill="#000">L2</text>
<line x1="642.9" y1="131.2" x2="648.8" y2="131.2" stroke="#6ac4da" stroke-width="1.2"/>
<text x="655.6" y="134.7" font-size="10" fill="#000">L3</text>
<text x="36.6" y="249.45" font-size="20.5" font-weight="bold" fill="#000">C</text>
<line x1="36.5" y1="271.85" x2="36.5" y2="413.65" stroke="#6e6e6e" stroke-width="1"/>
<line x1="36" y1="413.15" x2="234.7" y2="413.15" stroke="#6e6e6e" stroke-width="1"/>
<line x1="35" y1="406.45" x2="36.5" y2="406.45" stroke="#6e6e6e" stroke-width="0.8"/>
<text x="33.6" y="410.75" font-size="12.5" fill="#1e1e1e" text-anchor="end">0</text>
<line x1="35" y1="374.4" x2="36.5" y2="374.4" stroke="#6e6e6e" stroke-width="0.8"/>
<text x="33.6" y="378.7" font-size="12.5" fill="#1e1e1e" text-anchor="end">100</text>
<line x1="35" y1="342.35" x2="36.5" y2="342.35" stroke="#6e6e6e" stroke-width="0.8"/>
<text x="33.6" y="346.65" font-size="12.5" fill="#1e1e1e" text-anchor="end">200</text>
<line x1="35" y1="310.3" x2="36.5" y2="310.3" stroke="#6e6e6e" stroke-width="0.8"/>
<text x="33.6" y="314.6" font-size="12.5" fill="#1e1e1e" text-anchor="end">300</text>
<line x1="35" y1="278.25" x2="36.5" y2="278.25" stroke="#6e6e6e" stroke-width="0.8"/>
<text x="33.6" y="282.55" font-size="12.5" fill="#1e1e1e" text-anchor="end">400</text>
<line x1="55.4" y1="413.15" x2="55.4" y2="414.45" stroke="#6e6e6e" stroke-width="0.8"/>
<text x="55.7" y="424.15" font-size="12.5" fill="#1e1e1e" text-anchor="middle">10</text>
<line x1="87.45" y1="413.15" x2="87.45" y2="414.45" stroke="#6e6e6e" stroke-width="0.8"/>
<text x="87.75" y="424.15" font-size="12.5" fill="#1e1e1e" text-anchor="middle">20</text>
<line x1="119.5" y1="413.15" x2="119.5" y2="414.45" stroke="#6e6e6e" stroke-width="0.8"/>
<text x="119.8" y="424.15" font-size="12.5" fill="#1e1e1e" text-anchor="middle">30</text>
<line x1="151.55" y1="413.15" x2="151.55" y2="414.45" stroke="#6e6e6e" stroke-width="0.8"/>
<text x="151.85" y="424.15" font-size="12.5" fill="#1e1e1e" text-anchor="middle">40</text>
<line x1="183.6" y1="413.15" x2="183.6" y2="414.45" stroke="#6e6e6e" stroke-width="0.8"/>
<text x="183.9" y="424.15" font-size="12.5" fill="#1e1e1e" text-anchor="middle">60</text>
<line x1="215.65" y1="413.15" x2="215.65" y2="414.45" stroke="#6e6e6e" stroke-width="0.8"/>
<text x="215.95" y="424.15" font-size="12.5" fill="#1e1e1e" text-anchor="middle">120</text>
<text x="135.6" y="441.15" font-size="14" fill="#000" text-anchor="middle">Class size</text>
<text transform="translate(12.1,342.15) rotate(-90)" font-size="13.95" fill="#000" text-anchor="middle">No. cumulative infections</text>
<line x1="46.66" y1="306.3" x2="46.66" y2="315.3" stroke="#666" stroke-width="0.7"/>
<line x1="46.66" y1="345.1" x2="46.66" y2="359.9" stroke="#666" stroke-width="0.7"/>
<rect x="43.91" y="315.3" width="5.5" height="29.8" fill="#ffffff" stroke="#555" stroke-width="0.55"/>
<line x1="43.91" y1="335.6" x2="49.41" y2="335.6" stroke="#2a2a2a" stroke-width="0.95"/>
<line x1="52.62" y1="325" x2="52.62" y2="345.9" stroke="#666" stroke-width="0.7"/>
<line x1="52.62" y1="368.1" x2="52.62" y2="379.6" stroke="#666" stroke-width="0.7"/>
<rect x="49.87" y="345.9" width="5.5" height="22.2" fill="#ee0000" stroke="#555" stroke-width="0.55"/>
<line x1="49.87" y1="354.5" x2="55.37" y2="354.5" stroke="#2a2a2a" stroke-width="0.95"/>
<line x1="58.58" y1="368.9" x2="58.58" y2="377.1" stroke="#666" stroke-width="0.7"/>
<line x1="58.58" y1="388" x2="58.58" y2="394.9" stroke="#666" stroke-width="0.7"/>
<rect x="55.83" y="377.1" width="5.5" height="10.9" fill="#3fb63f" stroke="#555" stroke-width="0.55"/>
<line x1="55.83" y1="379.4" x2="61.33" y2="379.4" stroke="#2a2a2a" stroke-width="0.95"/>
<line x1="64.54" y1="398.1" x2="64.54" y2="400" stroke="#666" stroke-width="0.7"/>
<line x1="64.54" y1="400.8" x2="64.54" y2="402" stroke="#666" stroke-width="0.7"/>
<rect x="61.79" y="400" width="5.5" height="0.8" fill="#1a9cbc" stroke="#555" stroke-width="0.55"/>
<line x1="61.79" y1="400.4" x2="67.29" y2="400.4" stroke="#2a2a2a" stroke-width="0.95"/>
<line x1="78.71" y1="292.9" x2="78.71" y2="293.8" stroke="#666" stroke-width="0.7"/>
<line x1="78.71" y1="298.2" x2="78.71" y2="308.6" stroke="#666" stroke-width="0.7"/>
<rect x="75.96" y="293.8" width="5.5" height="4.4" fill="#ffffff" stroke="#555" stroke-width="0.55"/>
<line x1="75.96" y1="295.4" x2="81.46" y2="295.4" stroke="#2a2a2a" stroke-width="0.95"/>
<line x1="84.67" y1="296.7" x2="84.67" y2="298.6" stroke="#666" stroke-width="0.7"/>
<line x1="84.67" y1="308.8" x2="84.67" y2="320.6" stroke="#666" stroke-width="0.7"/>
<rect x="81.92" y="298.6" width="5.5" height="10.2" fill="#ee0000" stroke="#555" stroke-width="0.55"/>
<line x1="81.92" y1="302.1" x2="87.42" y2="302.1" stroke="#2a2a2a" stroke-width="0.95"/>
<circle cx="84.67" cy="326" r="0.45" fill="#444"/>
<line x1="90.63" y1="337.8" x2="90.63" y2="344.5" stroke="#666" stroke-width="0.7"/>
<line x1="90.63" y1="361.2" x2="90.63" y2="381.9" stroke="#666" stroke-width="0.7"/>
<rect x="87.88" y="344.5" width="5.5" height="16.7" fill="#3fb63f" stroke="#555" stroke-width="0.55"/>
<line x1="87.88" y1="354.1" x2="93.38" y2="354.1" stroke="#2a2a2a" stroke-width="0.95"/>
<circle cx="90.63" cy="385.7" r="0.45" fill="#444"/>
<line x1="96.59" y1="400.2" x2="96.59" y2="400.3" stroke="#666" stroke-width="0.7"/>
<line x1="96.59" y1="400.9" x2="96.59" y2="401" stroke="#666" stroke-width="0.7"/>
<rect x="93.84" y="400.3" width="5.5" height="0.6" fill="#1a9cbc" stroke="#555" stroke-width="0.55"/>
<line x1="93.84" y1="400.6" x2="99.34" y2="400.6" stroke="#2a2a2a" stroke-width="0.95"/>
<line x1="110.76" y1="293.2" x2="110.76" y2="293.45" stroke="#666" stroke-width="0.7"/>
<line x1="110.76" y1="294.15" x2="110.76" y2="294.4" stroke="#666" stroke-width="0.7"/>
<rect x="108.01" y="293.45" width="5.5" height="0.7" fill="#ffffff" stroke="#555" stroke-width="0.55"/>
<line x1="108.01" y1="293.8" x2="113.51" y2="293.8" stroke="#2a2a2a" stroke-width="0.95"/>
<line x1="116.72" y1="295" x2="116.72" y2="295.4" stroke="#666" stroke-width="0.7"/>
<line x1="116.72" y1="297.7" x2="116.72" y2="300.5" stroke="#666" stroke-width="0.7"/>
<rect x="113.97" y="295.4" width="5.5" height="2.3" fill="#ee0000" stroke="#555" stroke-width="0.55"/>
<line x1="113.97" y1="296.5" x2="119.47" y2="296.5" stroke="#2a2a2a" stroke-width="0.95"/>
<circle cx="116.72" cy="302.4" r="0.45" fill="#444"/>
<line x1="122.68" y1="348.4" x2="122.68" y2="356" stroke="#666" stroke-width="0.7"/>
<line x1="122.68" y1="363.3" x2="122.68" y2="367.5" stroke="#666" stroke-width="0.7"/>
<rect x="119.93" y="356" width="5.5" height="7.3" fill="#3fb63f" stroke="#555" stroke-width="0.55"/>
<line x1="119.93" y1="358.9" x2="125.43" y2="358.9" stroke="#2a2a2a" stroke-width="0.95"/>
<circle cx="122.68" cy="344.5" r="0.45" fill="#444"/>
<line x1="128.64" y1="388.6" x2="128.64" y2="390.5" stroke="#666" stroke-width="0.7"/>
<line x1="128.64" y1="393.7" x2="128.64" y2="394.9" stroke="#666" stroke-width="0.7"/>
<rect x="125.89" y="390.5" width="5.5" height="3.2" fill="#1a9cbc" stroke="#555" stroke-width="0.55"/>
<line x1="125.89" y1="391.8" x2="131.39" y2="391.8" stroke="#2a2a2a" stroke-width="0.95"/>
<circle cx="128.64" cy="381.9" r="0.45" fill="#444"/>
<line x1="142.81" y1="292.8" x2="142.81" y2="293.05" stroke="#666" stroke-width="0.7"/>
<line x1="142.81" y1="293.75" x2="142.81" y2="294" stroke="#666" stroke-width="0.7"/>
<rect x="140.06" y="293.05" width="5.5" height="0.7" fill="#ffffff" stroke="#555" stroke-width="0.55"/>
<line x1="140.06" y1="293.4" x2="145.56" y2="293.4" stroke="#2a2a2a" stroke-width="0.95"/>
<line x1="148.77" y1="293.8" x2="148.77" y2="294.05" stroke="#666" stroke-width="0.7"/>
<line x1="148.77" y1="294.75" x2="148.77" y2="295" stroke="#666" stroke-width="0.7"/>
<rect x="146.02" y="294.05" width="5.5" height="0.7" fill="#ee0000" stroke="#555" stroke-width="0.55"/>
<line x1="146.02" y1="294.4" x2="151.52" y2="294.4" stroke="#2a2a2a" stroke-width="0.95"/>
<line x1="154.73" y1="325.4" x2="154.73" y2="335" stroke="#666" stroke-width="0.7"/>
<line x1="154.73" y1="346.8" x2="154.73" y2="359.9" stroke="#666" stroke-width="0.7"/>
<rect x="151.98" y="335" width="5.5" height="11.8" fill="#3fb63f" stroke="#555" stroke-width="0.55"/>
<line x1="151.98" y1="339.8" x2="157.48" y2="339.8" stroke="#2a2a2a" stroke-width="0.95"/>
<line x1="160.69" y1="386.6" x2="160.69" y2="389.9" stroke="#666" stroke-width="0.7"/>
<line x1="160.69" y1="394.3" x2="160.69" y2="395.3" stroke="#666" stroke-width="0.7"/>
<rect x="157.94" y="389.9" width="5.5" height="4.4" fill="#1a9cbc" stroke="#555" stroke-width="0.55"/>
<line x1="157.94" y1="391.8" x2="163.44" y2="391.8" stroke="#2a2a2a" stroke-width="0.95"/>
<line x1="174.86" y1="292.6" x2="174.86" y2="292.85" stroke="#666" stroke-width="0.7"/>
<line x1="174.86" y1="293.55" x2="174.86" y2="293.8" stroke="#666" stroke-width="0.7"/>
<rect x="172.11" y="292.85" width="5.5" height="0.7" fill="#ffffff" stroke="#555" stroke-width="0.55"/>
<line x1="172.11" y1="293.2" x2="177.61" y2="293.2" stroke="#2a2a2a" stroke-width="0.95"/>
<line x1="180.82" y1="293.8" x2="180.82" y2="294.05" stroke="#666" stroke-width="0.7"/>
<line x1="180.82" y1="294.75" x2="180.82" y2="295" stroke="#666" stroke-width="0.7"/>
<rect x="178.07" y="294.05" width="5.5" height="0.7" fill="#ee0000" stroke="#555" stroke-width="0.55"/>
<line x1="178.07" y1="294.4" x2="183.57" y2="294.4" stroke="#2a2a2a" stroke-width="0.95"/>
<line x1="186.78" y1="311" x2="186.78" y2="319.1" stroke="#666" stroke-width="0.7"/>
<line x1="186.78" y1="332.1" x2="186.78" y2="340.7" stroke="#666" stroke-width="0.7"/>
<rect x="184.03" y="319.1" width="5.5" height="13" fill="#3fb63f" stroke="#555" stroke-width="0.55"/>
<line x1="184.03" y1="324.1" x2="189.53" y2="324.1" stroke="#2a2a2a" stroke-width="0.95"/>
<line x1="192.74" y1="385.7" x2="192.74" y2="389.1" stroke="#666" stroke-width="0.7"/>
<line x1="192.74" y1="393.7" x2="192.74" y2="394.9" stroke="#666" stroke-width="0.7"/>
<rect x="189.99" y="389.1" width="5.5" height="4.6" fill="#1a9cbc" stroke="#555" stroke-width="0.55"/>
<line x1="189.99" y1="391" x2="195.49" y2="391" stroke="#2a2a2a" stroke-width="0.95"/>
<line x1="206.91" y1="293.7" x2="206.91" y2="293.95" stroke="#666" stroke-width="0.7"/>
<line x1="206.91" y1="294.65" x2="206.91" y2="294.9" stroke="#666" stroke-width="0.7"/>
<rect x="204.16" y="293.95" width="5.5" height="0.7" fill="#ffffff" stroke="#555" stroke-width="0.55"/>
<line x1="204.16" y1="294.3" x2="209.66" y2="294.3" stroke="#2a2a2a" stroke-width="0.95"/>
<line x1="212.87" y1="293.9" x2="212.87" y2="294.15" stroke="#666" stroke-width="0.7"/>
<line x1="212.87" y1="294.85" x2="212.87" y2="295.1" stroke="#666" stroke-width="0.7"/>
<rect x="210.12" y="294.15" width="5.5" height="0.7" fill="#ee0000" stroke="#555" stroke-width="0.55"/>
<line x1="210.12" y1="294.5" x2="215.62" y2="294.5" stroke="#2a2a2a" stroke-width="0.95"/>
<line x1="218.83" y1="303.4" x2="218.83" y2="307.2" stroke="#666" stroke-width="0.7"/>
<line x1="218.83" y1="316.8" x2="218.83" y2="323.5" stroke="#666" stroke-width="0.7"/>
<rect x="216.08" y="307.2" width="5.5" height="9.6" fill="#3fb63f" stroke="#555" stroke-width="0.55"/>
<line x1="216.08" y1="312.6" x2="221.58" y2="312.6" stroke="#2a2a2a" stroke-width="0.95"/>
<line x1="224.79" y1="364.6" x2="224.79" y2="366" stroke="#666" stroke-width="0.7"/>
<line x1="224.79" y1="370.8" x2="224.79" y2="376.5" stroke="#666" stroke-width="0.7"/>
<rect x="222.04" y="366" width="5.5" height="4.8" fill="#1a9cbc" stroke="#555" stroke-width="0.55"/>
<line x1="222.04" y1="368.5" x2="227.54" y2="368.5" stroke="#2a2a2a" stroke-width="0.95"/>
<text x="240.6" y="326.95" font-size="12.3" fill="#000">scenario</text>
<line x1="243.85" y1="334.55" x2="243.85" y2="341.35" stroke="#777" stroke-width="0.5"/>
<rect x="241.4" y="335.75" width="4.9" height="4.4" fill="#ffffff" stroke="#555" stroke-width="0.5"/>
<line x1="241.4" y1="337.95" x2="246.3" y2="337.95" stroke="#333" stroke-width="0.8"/>
<text x="253.2" y="341.35" font-size="10" fill="#000">L0</text>
<line x1="243.85" y1="343.2" x2="243.85" y2="350" stroke="#777" stroke-width="0.5"/>
<rect x="241.4" y="344.4" width="4.9" height="4.4" fill="#ee0000" stroke="#555" stroke-width="0.5"/>
<line x1="241.4" y1="346.6" x2="246.3" y2="346.6" stroke="#333" stroke-width="0.8"/>
<text x="253.2" y="350" font-size="10" fill="#000">L1</text>
<line x1="243.85" y1="351.95" x2="243.85" y2="358.75" stroke="#777" stroke-width="0.5"/>
<rect x="241.4" y="353.15" width="4.9" height="4.4" fill="#3fb63f" stroke="#555" stroke-width="0.5"/>
<line x1="241.4" y1="355.35" x2="246.3" y2="355.35" stroke="#333" stroke-width="0.8"/>
<text x="253.2" y="358.75" font-size="10" fill="#000">L2</text>
<line x1="243.85" y1="360.35" x2="243.85" y2="367.15" stroke="#777" stroke-width="0.5"/>
<rect x="241.4" y="361.55" width="4.9" height="4.4" fill="#1a9cbc" stroke="#555" stroke-width="0.5"/>
<line x1="241.4" y1="363.75" x2="246.3" y2="363.75" stroke="#333" stroke-width="0.8"/>
<text x="253.2" y="367.15" font-size="10" fill="#000">L3</text>
<text x="326.3" y="247.45" font-size="20.2" font-weight="bold" fill="#000">D</text>
<rect x="326.4" y="271.65" width="94.85" height="50.1" fill="#fff"/>
<line x1="326.4" y1="312.44" x2="421.25" y2="312.44" stroke="#f3f3f3" stroke-width="0.6"/>
<line x1="326.4" y1="298.01" x2="421.25" y2="298.01" stroke="#f3f3f3" stroke-width="0.6"/>
<line x1="326.4" y1="283.59" x2="421.25" y2="283.59" stroke="#f3f3f3" stroke-width="0.6"/>
<line x1="342.5" y1="271.65" x2="342.5" y2="321.75" stroke="#f3f3f3" stroke-width="0.6"/>
<line x1="372.4" y1="271.65" x2="372.4" y2="321.75" stroke="#f3f3f3" stroke-width="0.6"/>
<line x1="402.3" y1="271.65" x2="402.3" y2="321.75" stroke="#f3f3f3" stroke-width="0.6"/>
<line x1="326.4" y1="319.65" x2="421.25" y2="319.65" stroke="#e8e8e8" stroke-width="1"/>
<line x1="326.4" y1="305.22" x2="421.25" y2="305.22" stroke="#e8e8e8" stroke-width="1"/>
<line x1="326.4" y1="290.8" x2="421.25" y2="290.8" stroke="#e8e8e8" stroke-width="1"/>
<line x1="326.4" y1="276.38" x2="421.25" y2="276.38" stroke="#e8e8e8" stroke-width="1"/>
<line x1="327.55" y1="271.65" x2="327.55" y2="321.75" stroke="#e8e8e8" stroke-width="1"/>
<line x1="357.45" y1="271.65" x2="357.45" y2="321.75" stroke="#e8e8e8" stroke-width="1"/>
<line x1="387.35" y1="271.65" x2="387.35" y2="321.75" stroke="#e8e8e8" stroke-width="1"/>
<line x1="417.25" y1="271.65" x2="417.25" y2="321.75" stroke="#e8e8e8" stroke-width="1"/>
<polyline points="330.54,306.59 333.53,319.65 336.52,319.65 342.5,316.08 348.48,313.89 351.47,313.89 354.46,315.35 357.45,317.54 360.44,314.62 366.42,313.89 372.4,313.89 375.39,316.08 381.37,315.35 387.35,315.35 393.33,315.06 399.31,316.81 405.29,316.08 411.27,317.54 417.25,319.44" fill="none" stroke="#2c5aa8" stroke-width="1.1" stroke-dasharray="3.4,2.8" stroke-linejoin="round"/>
<polyline points="336.52,319 342.5,315.35 345.49,317.54 348.48,316.81 351.47,319 357.45,319 360.44,314.62 366.42,314.62 372.4,315.35 378.38,315.35 387.35,315.64 393.33,315.06 396.32,316.81 402.3,316.08 408.28,316.81 417.25,319.44" fill="none" stroke="#e53030" stroke-width="1.1" stroke-linejoin="round"/>
<polyline points="336.52,319 342.5,316.08 345.49,319.65 351.47,317.54 357.45,319 363.43,317.54 372.4,316.81 381.37,317.54 393.33,316.81 402.3,317.54 417.25,319.44" fill="none" stroke="#3cb43c" stroke-width="1.1" stroke-linejoin="round"/>
<polyline points="330.54,313.89 333.53,319.44 336.52,319.65 342.5,317.54 345.49,319.44 357.45,319.65 417.25,319.65" fill="none" stroke="#30a8c8" stroke-width="1.35" stroke-linejoin="round"/>
<line x1="326.4" y1="316.76" x2="421.25" y2="316.76" stroke="#151515" stroke-width="1.7" stroke-dasharray="4.85,5.25" stroke-dashoffset="9.6"/>
<rect x="326.4" y="271.65" width="94.85" height="50.1" fill="none" stroke="#4a4a4a" stroke-width="0.9"/>
<rect x="326.4" y="253.75" width="94.85" height="17.9" fill="#d9d9d9" stroke="#4a4a4a" stroke-width="0.9"/>
<line x1="326.4" y1="271.65" x2="421.25" y2="271.65" stroke="#4a4a4a" stroke-width="1.8"/>
<text x="374.12" y="266.1" font-size="10.5" fill="#1a1a1a" text-anchor="middle">10</text>
<line x1="327.55" y1="321.75" x2="327.55" y2="324.55" stroke="#1a1a1a" stroke-width="1.15"/>
<text x="327.55" y="335.85" font-size="12.5" fill="#1e1e1e" text-anchor="middle">0</text>
<line x1="357.45" y1="321.75" x2="357.45" y2="324.55" stroke="#1a1a1a" stroke-width="1.15"/>
<text x="357.45" y="335.85" font-size="12.5" fill="#1e1e1e" text-anchor="middle">10</text>
<line x1="387.35" y1="321.75" x2="387.35" y2="324.55" stroke="#1a1a1a" stroke-width="1.15"/>
<text x="387.35" y="335.85" font-size="12.5" fill="#1e1e1e" text-anchor="middle">20</text>
<line x1="417.25" y1="321.75" x2="417.25" y2="324.55" stroke="#1a1a1a" stroke-width="1.15"/>
<text x="417.25" y="335.85" font-size="12.5" fill="#1e1e1e" text-anchor="middle">30</text>
<rect x="427.65" y="271.65" width="94.85" height="50.1" fill="#fff"/>
<line x1="427.65" y1="312.44" x2="522.5" y2="312.44" stroke="#f3f3f3" stroke-width="0.6"/>
<line x1="427.65" y1="298.01" x2="522.5" y2="298.01" stroke="#f3f3f3" stroke-width="0.6"/>
<line x1="427.65" y1="283.59" x2="522.5" y2="283.59" stroke="#f3f3f3" stroke-width="0.6"/>
<line x1="443.75" y1="271.65" x2="443.75" y2="321.75" stroke="#f3f3f3" stroke-width="0.6"/>
<line x1="473.65" y1="271.65" x2="473.65" y2="321.75" stroke="#f3f3f3" stroke-width="0.6"/>
<line x1="503.55" y1="271.65" x2="503.55" y2="321.75" stroke="#f3f3f3" stroke-width="0.6"/>
<line x1="427.65" y1="319.65" x2="522.5" y2="319.65" stroke="#e8e8e8" stroke-width="1"/>
<line x1="427.65" y1="305.22" x2="522.5" y2="305.22" stroke="#e8e8e8" stroke-width="1"/>
<line x1="427.65" y1="290.8" x2="522.5" y2="290.8" stroke="#e8e8e8" stroke-width="1"/>
<line x1="427.65" y1="276.38" x2="522.5" y2="276.38" stroke="#e8e8e8" stroke-width="1"/>
<line x1="428.8" y1="271.65" x2="428.8" y2="321.75" stroke="#e8e8e8" stroke-width="1"/>
<line x1="458.7" y1="271.65" x2="458.7" y2="321.75" stroke="#e8e8e8" stroke-width="1"/>
<line x1="488.6" y1="271.65" x2="488.6" y2="321.75" stroke="#e8e8e8" stroke-width="1"/>
<line x1="518.5" y1="271.65" x2="518.5" y2="321.75" stroke="#e8e8e8" stroke-width="1"/>
<polyline points="431.79,300.75 434.78,319.65 437.77,319.65 440.76,310.97 446.74,313.16 449.73,312.43 452.72,315.35 458.7,313.16 464.68,313.89 470.66,313.89 473.65,312.43 479.63,314.62 488.6,316.08 497.57,317.54 503.55,318.27 518.5,319.65" fill="none" stroke="#2c5aa8" stroke-width="1.1" stroke-dasharray="3.4,2.8" stroke-linejoin="round"/>
<polyline points="440.76,310.97 446.74,316.81 449.73,311.7 452.72,312.43 455.71,319.44 458.7,312.43 464.68,313.89 470.66,313.89 473.65,312.43 479.63,315.06 488.6,315.35 491.59,316.81 497.57,316.81 503.55,318.27 518.5,319.65" fill="none" stroke="#e53030" stroke-width="1.1" stroke-linejoin="round"/>
<polyline points="440.76,310.24 446.74,319 452.72,317.54 455.71,319 458.7,314.62 464.68,315.35 473.65,313.89 479.63,316.08 488.6,316.81 494.58,316.08 503.55,318.27 518.5,319.65" fill="none" stroke="#3cb43c" stroke-width="1.1" stroke-linejoin="round"/>
<polyline points="431.79,309.51 434.78,319.65 437.77,319.65 440.76,312.43 446.74,319.65 449.73,319.65 518.5,319.65" fill="none" stroke="#30a8c8" stroke-width="1.35" stroke-linejoin="round"/>
<line x1="427.65" y1="316.76" x2="522.5" y2="316.76" stroke="#151515" stroke-width="1.7" stroke-dasharray="4.85,5.25" stroke-dashoffset="9.6"/>
<rect x="427.65" y="271.65" width="94.85" height="50.1" fill="none" stroke="#4a4a4a" stroke-width="0.9"/>
<rect x="427.65" y="253.75" width="94.85" height="17.9" fill="#d9d9d9" stroke="#4a4a4a" stroke-width="0.9"/>
<line x1="427.65" y1="271.65" x2="522.5" y2="271.65" stroke="#4a4a4a" stroke-width="1.8"/>
<text x="475.38" y="266.1" font-size="10.5" fill="#1a1a1a" text-anchor="middle">20</text>
<line x1="428.8" y1="321.75" x2="428.8" y2="324.55" stroke="#1a1a1a" stroke-width="1.15"/>
<text x="428.8" y="335.85" font-size="12.5" fill="#1e1e1e" text-anchor="middle">0</text>
<line x1="458.7" y1="321.75" x2="458.7" y2="324.55" stroke="#1a1a1a" stroke-width="1.15"/>
<text x="458.7" y="335.85" font-size="12.5" fill="#1e1e1e" text-anchor="middle">10</text>
<line x1="488.6" y1="321.75" x2="488.6" y2="324.55" stroke="#1a1a1a" stroke-width="1.15"/>
<text x="488.6" y="335.85" font-size="12.5" fill="#1e1e1e" text-anchor="middle">20</text>
<line x1="518.5" y1="321.75" x2="518.5" y2="324.55" stroke="#1a1a1a" stroke-width="1.15"/>
<text x="518.5" y="335.85" font-size="12.5" fill="#1e1e1e" text-anchor="middle">30</text>
<rect x="528.9" y="271.65" width="94.85" height="50.1" fill="#fff"/>
<line x1="528.9" y1="312.44" x2="623.75" y2="312.44" stroke="#f3f3f3" stroke-width="0.6"/>
<line x1="528.9" y1="298.01" x2="623.75" y2="298.01" stroke="#f3f3f3" stroke-width="0.6"/>
<line x1="528.9" y1="283.59" x2="623.75" y2="283.59" stroke="#f3f3f3" stroke-width="0.6"/>
<line x1="545" y1="271.65" x2="545" y2="321.75" stroke="#f3f3f3" stroke-width="0.6"/>
<line x1="574.9" y1="271.65" x2="574.9" y2="321.75" stroke="#f3f3f3" stroke-width="0.6"/>
<line x1="604.8" y1="271.65" x2="604.8" y2="321.75" stroke="#f3f3f3" stroke-width="0.6"/>
<line x1="528.9" y1="319.65" x2="623.75" y2="319.65" stroke="#e8e8e8" stroke-width="1"/>
<line x1="528.9" y1="305.22" x2="623.75" y2="305.22" stroke="#e8e8e8" stroke-width="1"/>
<line x1="528.9" y1="290.8" x2="623.75" y2="290.8" stroke="#e8e8e8" stroke-width="1"/>
<line x1="528.9" y1="276.38" x2="623.75" y2="276.38" stroke="#e8e8e8" stroke-width="1"/>
<line x1="530.05" y1="271.65" x2="530.05" y2="321.75" stroke="#e8e8e8" stroke-width="1"/>
<line x1="559.95" y1="271.65" x2="559.95" y2="321.75" stroke="#e8e8e8" stroke-width="1"/>
<line x1="589.85" y1="271.65" x2="589.85" y2="321.75" stroke="#e8e8e8" stroke-width="1"/>
<line x1="619.75" y1="271.65" x2="619.75" y2="321.75" stroke="#e8e8e8" stroke-width="1"/>
<polyline points="533.04,302.21 536.03,319.65 539.02,319.65 542.01,308.05 545,314.62 547.99,311.7 553.97,309.51 556.96,313.16 559.95,311.7 565.93,313.89 571.91,314.62 574.9,313.89 580.88,316.08 589.85,317.54 604.8,319 619.75,319.65" fill="none" stroke="#2c5aa8" stroke-width="1.1" stroke-dasharray="3.4,2.8" stroke-linejoin="round"/>
<polyline points="542.01,308.05 545,314.62 550.98,311.7 556.96,313.89 559.95,311.7 565.93,313.89 571.91,315.35 574.9,313.89 580.88,316.08 589.85,317.54 604.8,319 619.75,319.65" fill="none" stroke="#e53030" stroke-width="1.1" stroke-linejoin="round"/>
<polyline points="542.01,308.05 545,316.81 550.98,317.54 553.97,316.08 556.96,319 559.95,316.81 562.94,315.06 568.92,317.54 574.9,316.81 580.88,317.54 589.85,318.27 619.75,319.65" fill="none" stroke="#3cb43c" stroke-width="1.1" stroke-linejoin="round"/>
<polyline points="533.04,308.05 536.03,319.65 539.02,319.65 542.01,308.05 545,315.35 547.99,316.81 553.97,316.08 556.96,319.65 559.95,319.65 619.75,319.65" fill="none" stroke="#30a8c8" stroke-width="1.35" stroke-linejoin="round"/>
<line x1="528.9" y1="316.76" x2="623.75" y2="316.76" stroke="#151515" stroke-width="1.7" stroke-dasharray="4.85,5.25" stroke-dashoffset="9.6"/>
<rect x="528.9" y="271.65" width="94.85" height="50.1" fill="none" stroke="#4a4a4a" stroke-width="0.9"/>
<rect x="528.9" y="253.75" width="94.85" height="17.9" fill="#d9d9d9" stroke="#4a4a4a" stroke-width="0.9"/>
<line x1="528.9" y1="271.65" x2="623.75" y2="271.65" stroke="#4a4a4a" stroke-width="1.8"/>
<text x="576.62" y="266.1" font-size="10.5" fill="#1a1a1a" text-anchor="middle">30</text>
<line x1="530.05" y1="321.75" x2="530.05" y2="324.55" stroke="#1a1a1a" stroke-width="1.15"/>
<text x="530.05" y="335.85" font-size="12.5" fill="#1e1e1e" text-anchor="middle">0</text>
<line x1="559.95" y1="321.75" x2="559.95" y2="324.55" stroke="#1a1a1a" stroke-width="1.15"/>
<text x="559.95" y="335.85" font-size="12.5" fill="#1e1e1e" text-anchor="middle">10</text>
<line x1="589.85" y1="321.75" x2="589.85" y2="324.55" stroke="#1a1a1a" stroke-width="1.15"/>
<text x="589.85" y="335.85" font-size="12.5" fill="#1e1e1e" text-anchor="middle">20</text>
<line x1="619.75" y1="321.75" x2="619.75" y2="324.55" stroke="#1a1a1a" stroke-width="1.15"/>
<text x="619.75" y="335.85" font-size="12.5" fill="#1e1e1e" text-anchor="middle">30</text>
<line x1="323.2" y1="319.65" x2="326.4" y2="319.65" stroke="#1a1a1a" stroke-width="1.15"/>
<text x="320.9" y="324.05" font-size="12.5" fill="#1e1e1e" text-anchor="end">0</text>
<line x1="323.2" y1="305.22" x2="326.4" y2="305.22" stroke="#1a1a1a" stroke-width="1.15"/>
<text x="320.9" y="309.62" font-size="12.5" fill="#1e1e1e" text-anchor="end">5</text>
<line x1="323.2" y1="290.8" x2="326.4" y2="290.8" stroke="#1a1a1a" stroke-width="1.15"/>
<text x="320.9" y="295.2" font-size="12.5" fill="#1e1e1e" text-anchor="end">10</text>
<line x1="323.2" y1="276.38" x2="326.4" y2="276.38" stroke="#1a1a1a" stroke-width="1.15"/>
<text x="320.9" y="280.77" font-size="12.5" fill="#1e1e1e" text-anchor="end">15</text>
<rect x="326.4" y="362.7" width="94.85" height="50.1" fill="#fff"/>
<line x1="326.4" y1="403.49" x2="421.25" y2="403.49" stroke="#f3f3f3" stroke-width="0.6"/>
<line x1="326.4" y1="389.06" x2="421.25" y2="389.06" stroke="#f3f3f3" stroke-width="0.6"/>
<line x1="326.4" y1="374.64" x2="421.25" y2="374.64" stroke="#f3f3f3" stroke-width="0.6"/>
<line x1="342.5" y1="362.7" x2="342.5" y2="412.8" stroke="#f3f3f3" stroke-width="0.6"/>
<line x1="372.4" y1="362.7" x2="372.4" y2="412.8" stroke="#f3f3f3" stroke-width="0.6"/>
<line x1="402.3" y1="362.7" x2="402.3" y2="412.8" stroke="#f3f3f3" stroke-width="0.6"/>
<line x1="326.4" y1="410.7" x2="421.25" y2="410.7" stroke="#e8e8e8" stroke-width="1"/>
<line x1="326.4" y1="396.27" x2="421.25" y2="396.27" stroke="#e8e8e8" stroke-width="1"/>
<line x1="326.4" y1="381.85" x2="421.25" y2="381.85" stroke="#e8e8e8" stroke-width="1"/>
<line x1="326.4" y1="367.43" x2="421.25" y2="367.43" stroke="#e8e8e8" stroke-width="1"/>
<line x1="327.55" y1="362.7" x2="327.55" y2="412.8" stroke="#e8e8e8" stroke-width="1"/>
<line x1="357.45" y1="362.7" x2="357.45" y2="412.8" stroke="#e8e8e8" stroke-width="1"/>
<line x1="387.35" y1="362.7" x2="387.35" y2="412.8" stroke="#e8e8e8" stroke-width="1"/>
<line x1="417.25" y1="362.7" x2="417.25" y2="412.8" stroke="#e8e8e8" stroke-width="1"/>
<polyline points="330.54,378.05 333.53,410.7 339.51,397.03 342.5,403.6 345.49,402.14 348.48,402.87 354.46,402.14 357.45,404.33 363.43,407.25 369.41,406.52 372.4,407.98 378.38,409.87 387.35,410.17 417.25,410.7" fill="none" stroke="#2c5aa8" stroke-width="1.1" stroke-dasharray="3.4,2.8" stroke-linejoin="round"/>
<polyline points="339.51,397.03 345.49,403.6 348.48,401.7 351.47,403.6 354.46,402.57 357.45,404.03 363.43,407.25 369.41,406.52 375.39,409.44 387.35,410.17 417.25,410.7" fill="none" stroke="#e53030" stroke-width="1.1" stroke-linejoin="round"/>
<polyline points="339.51,397.76 345.49,407.25 351.47,404.62 354.46,407.98 357.45,405.79 363.43,407.25 366.42,409.44 372.4,407.98 378.38,409.87 387.35,409.87 417.25,410.7" fill="none" stroke="#3cb43c" stroke-width="1.1" stroke-linejoin="round"/>
<polyline points="330.54,392.65 333.53,410.7 339.51,398.19 345.49,410.46 348.48,410.7 417.25,410.7" fill="none" stroke="#30a8c8" stroke-width="1.35" stroke-linejoin="round"/>
<line x1="326.4" y1="407.81" x2="421.25" y2="407.81" stroke="#151515" stroke-width="1.7" stroke-dasharray="4.85,5.25" stroke-dashoffset="9.6"/>
<rect x="326.4" y="362.7" width="94.85" height="50.1" fill="none" stroke="#4a4a4a" stroke-width="0.9"/>
<rect x="326.4" y="344.8" width="94.85" height="17.9" fill="#d9d9d9" stroke="#4a4a4a" stroke-width="0.9"/>
<line x1="326.4" y1="362.7" x2="421.25" y2="362.7" stroke="#4a4a4a" stroke-width="1.8"/>
<text x="374.12" y="357.15" font-size="10.5" fill="#1a1a1a" text-anchor="middle">40</text>
<line x1="327.55" y1="412.8" x2="327.55" y2="415.6" stroke="#1a1a1a" stroke-width="1.15"/>
<text x="327.55" y="426.9" font-size="12.5" fill="#1e1e1e" text-anchor="middle">0</text>
<line x1="357.45" y1="412.8" x2="357.45" y2="415.6" stroke="#1a1a1a" stroke-width="1.15"/>
<text x="357.45" y="426.9" font-size="12.5" fill="#1e1e1e" text-anchor="middle">10</text>
<line x1="387.35" y1="412.8" x2="387.35" y2="415.6" stroke="#1a1a1a" stroke-width="1.15"/>
<text x="387.35" y="426.9" font-size="12.5" fill="#1e1e1e" text-anchor="middle">20</text>
<line x1="417.25" y1="412.8" x2="417.25" y2="415.6" stroke="#1a1a1a" stroke-width="1.15"/>
<text x="417.25" y="426.9" font-size="12.5" fill="#1e1e1e" text-anchor="middle">30</text>
<rect x="427.65" y="362.7" width="94.85" height="50.1" fill="#fff"/>
<line x1="427.65" y1="403.49" x2="522.5" y2="403.49" stroke="#f3f3f3" stroke-width="0.6"/>
<line x1="427.65" y1="389.06" x2="522.5" y2="389.06" stroke="#f3f3f3" stroke-width="0.6"/>
<line x1="427.65" y1="374.64" x2="522.5" y2="374.64" stroke="#f3f3f3" stroke-width="0.6"/>
<line x1="443.75" y1="362.7" x2="443.75" y2="412.8" stroke="#f3f3f3" stroke-width="0.6"/>
<line x1="473.65" y1="362.7" x2="473.65" y2="412.8" stroke="#f3f3f3" stroke-width="0.6"/>
<line x1="503.55" y1="362.7" x2="503.55" y2="412.8" stroke="#f3f3f3" stroke-width="0.6"/>
<line x1="427.65" y1="410.7" x2="522.5" y2="410.7" stroke="#e8e8e8" stroke-width="1"/>
<line x1="427.65" y1="396.27" x2="522.5" y2="396.27" stroke="#e8e8e8" stroke-width="1"/>
<line x1="427.65" y1="381.85" x2="522.5" y2="381.85" stroke="#e8e8e8" stroke-width="1"/>
<line x1="427.65" y1="367.43" x2="522.5" y2="367.43" stroke="#e8e8e8" stroke-width="1"/>
<line x1="428.8" y1="362.7" x2="428.8" y2="412.8" stroke="#e8e8e8" stroke-width="1"/>
<line x1="458.7" y1="362.7" x2="458.7" y2="412.8" stroke="#e8e8e8" stroke-width="1"/>
<line x1="488.6" y1="362.7" x2="488.6" y2="412.8" stroke="#e8e8e8" stroke-width="1"/>
<line x1="518.5" y1="362.7" x2="518.5" y2="412.8" stroke="#e8e8e8" stroke-width="1"/>
<polyline points="431.79,368.56 434.78,410.7 437.77,390.46 440.76,394.11 443.75,399.95 446.74,405.79 449.73,402.87 452.72,401.11 455.71,403.16 458.7,402.57 464.68,406.52 470.66,408.71 473.65,407.98 479.63,409.87 518.5,410.7" fill="none" stroke="#2c5aa8" stroke-width="1.1" stroke-dasharray="3.4,2.8" stroke-linejoin="round"/>
<polyline points="437.77,390.46 440.76,394.11 443.75,399.95 446.74,405.79 449.73,402.87 452.72,401.11 455.71,403.16 458.7,402.57 464.68,406.52 470.66,408.71 473.65,407.98 479.63,409.87 518.5,410.7" fill="none" stroke="#e53030" stroke-width="1.1" stroke-linejoin="round"/>
<polyline points="437.77,390.46 440.76,394.84 443.75,401.41 446.74,407.25 452.72,405.06 455.71,406.95 458.7,404.33 464.68,407.25 470.66,408.71 473.65,409 488.6,409.87 512.52,409.87 518.5,410.7" fill="none" stroke="#3cb43c" stroke-width="1.1" stroke-linejoin="round"/>
<polyline points="431.79,382.43 434.78,410.7 437.77,390.9 440.76,394.11 443.75,402.87 446.74,410.46 449.73,410.7 518.5,410.7" fill="none" stroke="#30a8c8" stroke-width="1.35" stroke-linejoin="round"/>
<line x1="427.65" y1="407.81" x2="522.5" y2="407.81" stroke="#151515" stroke-width="1.7" stroke-dasharray="4.85,5.25" stroke-dashoffset="9.6"/>
<rect x="427.65" y="362.7" width="94.85" height="50.1" fill="none" stroke="#4a4a4a" stroke-width="0.9"/>
<rect x="427.65" y="344.8" width="94.85" height="17.9" fill="#d9d9d9" stroke="#4a4a4a" stroke-width="0.9"/>
<line x1="427.65" y1="362.7" x2="522.5" y2="362.7" stroke="#4a4a4a" stroke-width="1.8"/>
<text x="475.38" y="357.15" font-size="10.5" fill="#1a1a1a" text-anchor="middle">60</text>
<line x1="428.8" y1="412.8" x2="428.8" y2="415.6" stroke="#1a1a1a" stroke-width="1.15"/>
<text x="428.8" y="426.9" font-size="12.5" fill="#1e1e1e" text-anchor="middle">0</text>
<line x1="458.7" y1="412.8" x2="458.7" y2="415.6" stroke="#1a1a1a" stroke-width="1.15"/>
<text x="458.7" y="426.9" font-size="12.5" fill="#1e1e1e" text-anchor="middle">10</text>
<line x1="488.6" y1="412.8" x2="488.6" y2="415.6" stroke="#1a1a1a" stroke-width="1.15"/>
<text x="488.6" y="426.9" font-size="12.5" fill="#1e1e1e" text-anchor="middle">20</text>
<line x1="518.5" y1="412.8" x2="518.5" y2="415.6" stroke="#1a1a1a" stroke-width="1.15"/>
<text x="518.5" y="426.9" font-size="12.5" fill="#1e1e1e" text-anchor="middle">30</text>
<rect x="528.9" y="362.7" width="94.85" height="50.1" fill="#fff"/>
<line x1="528.9" y1="403.49" x2="623.75" y2="403.49" stroke="#f3f3f3" stroke-width="0.6"/>
<line x1="528.9" y1="389.06" x2="623.75" y2="389.06" stroke="#f3f3f3" stroke-width="0.6"/>
<line x1="528.9" y1="374.64" x2="623.75" y2="374.64" stroke="#f3f3f3" stroke-width="0.6"/>
<line x1="545" y1="362.7" x2="545" y2="412.8" stroke="#f3f3f3" stroke-width="0.6"/>
<line x1="574.9" y1="362.7" x2="574.9" y2="412.8" stroke="#f3f3f3" stroke-width="0.6"/>
<line x1="604.8" y1="362.7" x2="604.8" y2="412.8" stroke="#f3f3f3" stroke-width="0.6"/>
<line x1="528.9" y1="410.7" x2="623.75" y2="410.7" stroke="#e8e8e8" stroke-width="1"/>
<line x1="528.9" y1="396.27" x2="623.75" y2="396.27" stroke="#e8e8e8" stroke-width="1"/>
<line x1="528.9" y1="381.85" x2="623.75" y2="381.85" stroke="#e8e8e8" stroke-width="1"/>
<line x1="528.9" y1="367.43" x2="623.75" y2="367.43" stroke="#e8e8e8" stroke-width="1"/>
<line x1="530.05" y1="362.7" x2="530.05" y2="412.8" stroke="#e8e8e8" stroke-width="1"/>
<line x1="559.95" y1="362.7" x2="559.95" y2="412.8" stroke="#e8e8e8" stroke-width="1"/>
<line x1="589.85" y1="362.7" x2="589.85" y2="412.8" stroke="#e8e8e8" stroke-width="1"/>
<line x1="619.75" y1="362.7" x2="619.75" y2="412.8" stroke="#e8e8e8" stroke-width="1"/>
<polyline points="536.03,410.7 539.02,373.67 542.01,387.54 545,401.7 547.99,407.25 550.98,405.49 553.97,404.76 556.96,406.08 559.95,407.98 562.94,409.87 589.85,410.46 619.75,410.7" fill="none" stroke="#2c5aa8" stroke-width="1.1" stroke-dasharray="3.4,2.8" stroke-linejoin="round"/>
<polyline points="536.03,410.7 539.02,373.67 542.01,387.54 545,401.7 547.99,407.25 550.98,405.49 553.97,404.76 556.96,406.08 559.95,407.98 562.94,409.87 589.85,410.46 619.75,410.7" fill="none" stroke="#e53030" stroke-width="1.1" stroke-linejoin="round"/>
<polyline points="536.03,410.7 539.02,373.96 542.01,387.98 545,402.14 547.99,407.98 553.97,406.52 556.96,406.95 559.95,408.71 565.93,409.87 604.8,409.87 619.75,410.7" fill="none" stroke="#3cb43c" stroke-width="1.1" stroke-linejoin="round"/>
<polyline points="536.03,410.7 539.02,374.4 542.01,388.27 545,402.87 547.99,410.46 550.98,410.7 619.75,410.7" fill="none" stroke="#30a8c8" stroke-width="1.35" stroke-linejoin="round"/>
<line x1="528.9" y1="407.81" x2="623.75" y2="407.81" stroke="#151515" stroke-width="1.7" stroke-dasharray="4.85,5.25" stroke-dashoffset="9.6"/>
<rect x="528.9" y="362.7" width="94.85" height="50.1" fill="none" stroke="#4a4a4a" stroke-width="0.9"/>
<rect x="528.9" y="344.8" width="94.85" height="17.9" fill="#d9d9d9" stroke="#4a4a4a" stroke-width="0.9"/>
<line x1="528.9" y1="362.7" x2="623.75" y2="362.7" stroke="#4a4a4a" stroke-width="1.8"/>
<text x="576.62" y="357.15" font-size="10.5" fill="#1a1a1a" text-anchor="middle">120</text>
<line x1="530.05" y1="412.8" x2="530.05" y2="415.6" stroke="#1a1a1a" stroke-width="1.15"/>
<text x="530.05" y="426.9" font-size="12.5" fill="#1e1e1e" text-anchor="middle">0</text>
<line x1="559.95" y1="412.8" x2="559.95" y2="415.6" stroke="#1a1a1a" stroke-width="1.15"/>
<text x="559.95" y="426.9" font-size="12.5" fill="#1e1e1e" text-anchor="middle">10</text>
<line x1="589.85" y1="412.8" x2="589.85" y2="415.6" stroke="#1a1a1a" stroke-width="1.15"/>
<text x="589.85" y="426.9" font-size="12.5" fill="#1e1e1e" text-anchor="middle">20</text>
<line x1="619.75" y1="412.8" x2="619.75" y2="415.6" stroke="#1a1a1a" stroke-width="1.15"/>
<text x="619.75" y="426.9" font-size="12.5" fill="#1e1e1e" text-anchor="middle">30</text>
<line x1="323.2" y1="410.7" x2="326.4" y2="410.7" stroke="#1a1a1a" stroke-width="1.15"/>
<text x="320.9" y="415.1" font-size="12.5" fill="#1e1e1e" text-anchor="end">0</text>
<line x1="323.2" y1="396.27" x2="326.4" y2="396.27" stroke="#1a1a1a" stroke-width="1.15"/>
<text x="320.9" y="400.67" font-size="12.5" fill="#1e1e1e" text-anchor="end">5</text>
<line x1="323.2" y1="381.85" x2="326.4" y2="381.85" stroke="#1a1a1a" stroke-width="1.15"/>
<text x="320.9" y="386.25" font-size="12.5" fill="#1e1e1e" text-anchor="end">10</text>
<line x1="323.2" y1="367.43" x2="326.4" y2="367.43" stroke="#1a1a1a" stroke-width="1.15"/>
<text x="320.9" y="371.82" font-size="12.5" fill="#1e1e1e" text-anchor="end">15</text>
<text x="475.3" y="441.65" font-size="13.8" fill="#000" text-anchor="middle">days</text>
<text transform="translate(302.8,342.05) rotate(-90)" font-size="14.2" fill="#000" text-anchor="middle">Rt</text>
<text x="642.5" y="326.55" font-size="12.3" fill="#000">scenario</text>
<line x1="642.9" y1="337.85" x2="648.8" y2="337.85" stroke="#6687c2" stroke-width="1.6"/>
<text x="655.6" y="341.35" font-size="10" fill="#000">L0</text>
<line x1="642.9" y1="346.45" x2="648.8" y2="346.45" stroke="#e84444" stroke-width="1.2"/>
<text x="655.6" y="349.95" font-size="10" fill="#000">L1</text>
<line x1="642.9" y1="355.25" x2="648.8" y2="355.25" stroke="#55c055" stroke-width="1.2"/>
<text x="655.6" y="358.75" font-size="10" fill="#000">L2</text>
<line x1="642.9" y1="364.05" x2="648.8" y2="364.05" stroke="#6ac4da" stroke-width="1.2"/>
<text x="655.6" y="367.55" font-size="10" fill="#000">L3</text>
<text x="36.7" y="481.9" font-size="20.3" font-weight="bold" fill="#000">E</text>
<line x1="36.5" y1="504.7" x2="36.5" y2="646.5" stroke="#6e6e6e" stroke-width="1"/>
<line x1="36" y1="646" x2="234.7" y2="646" stroke="#6e6e6e" stroke-width="1"/>
<line x1="35" y1="639.3" x2="36.5" y2="639.3" stroke="#6e6e6e" stroke-width="0.8"/>
<text x="33.6" y="643.6" font-size="12.5" fill="#1e1e1e" text-anchor="end">0</text>
<line x1="35" y1="607.25" x2="36.5" y2="607.25" stroke="#6e6e6e" stroke-width="0.8"/>
<text x="33.6" y="611.55" font-size="12.5" fill="#1e1e1e" text-anchor="end">100</text>
<line x1="35" y1="575.2" x2="36.5" y2="575.2" stroke="#6e6e6e" stroke-width="0.8"/>
<text x="33.6" y="579.5" font-size="12.5" fill="#1e1e1e" text-anchor="end">200</text>
<line x1="35" y1="543.15" x2="36.5" y2="543.15" stroke="#6e6e6e" stroke-width="0.8"/>
<text x="33.6" y="547.45" font-size="12.5" fill="#1e1e1e" text-anchor="end">300</text>
<line x1="35" y1="511.1" x2="36.5" y2="511.1" stroke="#6e6e6e" stroke-width="0.8"/>
<text x="33.6" y="515.4" font-size="12.5" fill="#1e1e1e" text-anchor="end">400</text>
<line x1="55.4" y1="646" x2="55.4" y2="647.3" stroke="#6e6e6e" stroke-width="0.8"/>
<text x="55.7" y="657" font-size="12.5" fill="#1e1e1e" text-anchor="middle">10</text>
<line x1="87.45" y1="646" x2="87.45" y2="647.3" stroke="#6e6e6e" stroke-width="0.8"/>
<text x="87.75" y="657" font-size="12.5" fill="#1e1e1e" text-anchor="middle">20</text>
<line x1="119.5" y1="646" x2="119.5" y2="647.3" stroke="#6e6e6e" stroke-width="0.8"/>
<text x="119.8" y="657" font-size="12.5" fill="#1e1e1e" text-anchor="middle">30</text>
<line x1="151.55" y1="646" x2="151.55" y2="647.3" stroke="#6e6e6e" stroke-width="0.8"/>
<text x="151.85" y="657" font-size="12.5" fill="#1e1e1e" text-anchor="middle">40</text>
<line x1="183.6" y1="646" x2="183.6" y2="647.3" stroke="#6e6e6e" stroke-width="0.8"/>
<text x="183.9" y="657" font-size="12.5" fill="#1e1e1e" text-anchor="middle">60</text>
<line x1="215.65" y1="646" x2="215.65" y2="647.3" stroke="#6e6e6e" stroke-width="0.8"/>
<text x="215.95" y="657" font-size="12.5" fill="#1e1e1e" text-anchor="middle">120</text>
<text x="135.6" y="674" font-size="14" fill="#000" text-anchor="middle">Class size</text>
<text transform="translate(12.1,575) rotate(-90)" font-size="13.95" fill="#000" text-anchor="middle">No. cumulative infections</text>
<line x1="46.66" y1="522.1" x2="46.66" y2="524.6" stroke="#666" stroke-width="0.7"/>
<line x1="46.66" y1="530.1" x2="46.66" y2="534.3" stroke="#666" stroke-width="0.7"/>
<rect x="43.91" y="524.6" width="5.5" height="5.5" fill="#ffffff" stroke="#555" stroke-width="0.55"/>
<line x1="43.91" y1="526.2" x2="49.41" y2="526.2" stroke="#2a2a2a" stroke-width="0.95"/>
<circle cx="46.66" cy="539.5" r="0.45" fill="#444"/>
<line x1="52.62" y1="527.9" x2="52.62" y2="542.5" stroke="#666" stroke-width="0.7"/>
<line x1="52.62" y1="568.2" x2="52.62" y2="575.5" stroke="#666" stroke-width="0.7"/>
<rect x="49.87" y="542.5" width="5.5" height="25.7" fill="#ee0000" stroke="#555" stroke-width="0.55"/>
<line x1="49.87" y1="545.6" x2="55.37" y2="545.6" stroke="#2a2a2a" stroke-width="0.95"/>
<line x1="58.58" y1="556" x2="58.58" y2="573.2" stroke="#666" stroke-width="0.7"/>
<line x1="58.58" y1="595.6" x2="58.58" y2="605.7" stroke="#666" stroke-width="0.7"/>
<rect x="55.83" y="573.2" width="5.5" height="22.4" fill="#3fb63f" stroke="#555" stroke-width="0.55"/>
<line x1="55.83" y1="578.4" x2="61.33" y2="578.4" stroke="#2a2a2a" stroke-width="0.95"/>
<line x1="64.54" y1="632" x2="64.54" y2="632.2" stroke="#666" stroke-width="0.7"/>
<line x1="64.54" y1="632.8" x2="64.54" y2="633" stroke="#666" stroke-width="0.7"/>
<rect x="61.79" y="632.2" width="5.5" height="0.6" fill="#1a9cbc" stroke="#555" stroke-width="0.55"/>
<line x1="61.79" y1="632.5" x2="67.29" y2="632.5" stroke="#2a2a2a" stroke-width="0.95"/>
<circle cx="64.54" cy="625.8" r="0.45" fill="#444"/>
<line x1="78.71" y1="524.2" x2="78.71" y2="524.45" stroke="#666" stroke-width="0.7"/>
<line x1="78.71" y1="525.15" x2="78.71" y2="525.4" stroke="#666" stroke-width="0.7"/>
<rect x="75.96" y="524.45" width="5.5" height="0.7" fill="#ffffff" stroke="#555" stroke-width="0.55"/>
<line x1="75.96" y1="524.8" x2="81.46" y2="524.8" stroke="#2a2a2a" stroke-width="0.95"/>
<line x1="84.67" y1="526.5" x2="84.67" y2="526.6" stroke="#666" stroke-width="0.7"/>
<line x1="84.67" y1="527.4" x2="84.67" y2="529.2" stroke="#666" stroke-width="0.7"/>
<rect x="81.92" y="526.6" width="5.5" height="0.8" fill="#ee0000" stroke="#555" stroke-width="0.55"/>
<line x1="81.92" y1="527" x2="87.42" y2="527" stroke="#2a2a2a" stroke-width="0.95"/>
<line x1="90.63" y1="544.2" x2="90.63" y2="546" stroke="#666" stroke-width="0.7"/>
<line x1="90.63" y1="555.2" x2="90.63" y2="564.1" stroke="#666" stroke-width="0.7"/>
<rect x="87.88" y="546" width="5.5" height="9.2" fill="#3fb63f" stroke="#555" stroke-width="0.55"/>
<line x1="87.88" y1="551.9" x2="93.38" y2="551.9" stroke="#2a2a2a" stroke-width="0.95"/>
<line x1="96.59" y1="627.7" x2="96.59" y2="629.3" stroke="#666" stroke-width="0.7"/>
<line x1="96.59" y1="633" x2="96.59" y2="633.7" stroke="#666" stroke-width="0.7"/>
<rect x="93.84" y="629.3" width="5.5" height="3.7" fill="#1a9cbc" stroke="#555" stroke-width="0.55"/>
<line x1="93.84" y1="630.8" x2="99.34" y2="630.8" stroke="#2a2a2a" stroke-width="0.95"/>
<line x1="110.76" y1="523.9" x2="110.76" y2="524.15" stroke="#666" stroke-width="0.7"/>
<line x1="110.76" y1="524.85" x2="110.76" y2="525.1" stroke="#666" stroke-width="0.7"/>
<rect x="108.01" y="524.15" width="5.5" height="0.7" fill="#ffffff" stroke="#555" stroke-width="0.55"/>
<line x1="108.01" y1="524.5" x2="113.51" y2="524.5" stroke="#2a2a2a" stroke-width="0.95"/>
<line x1="116.72" y1="525.5" x2="116.72" y2="525.75" stroke="#666" stroke-width="0.7"/>
<line x1="116.72" y1="526.45" x2="116.72" y2="526.7" stroke="#666" stroke-width="0.7"/>
<rect x="113.97" y="525.75" width="5.5" height="0.7" fill="#ee0000" stroke="#555" stroke-width="0.55"/>
<line x1="113.97" y1="526.1" x2="119.47" y2="526.1" stroke="#2a2a2a" stroke-width="0.95"/>
<line x1="122.68" y1="535.8" x2="122.68" y2="537.9" stroke="#666" stroke-width="0.7"/>
<line x1="122.68" y1="542" x2="122.68" y2="545.5" stroke="#666" stroke-width="0.7"/>
<rect x="119.93" y="537.9" width="5.5" height="4.1" fill="#3fb63f" stroke="#555" stroke-width="0.55"/>
<line x1="119.93" y1="539.5" x2="125.43" y2="539.5" stroke="#2a2a2a" stroke-width="0.95"/>
<circle cx="122.68" cy="553.8" r="0.45" fill="#444"/>
<circle cx="122.68" cy="555.5" r="0.45" fill="#444"/>
<circle cx="122.68" cy="557.1" r="0.45" fill="#444"/>
<line x1="128.64" y1="627" x2="128.64" y2="627.3" stroke="#666" stroke-width="0.7"/>
<line x1="128.64" y1="629.3" x2="128.64" y2="629.8" stroke="#666" stroke-width="0.7"/>
<rect x="125.89" y="627.3" width="5.5" height="2" fill="#1a9cbc" stroke="#555" stroke-width="0.55"/>
<line x1="125.89" y1="628.1" x2="131.39" y2="628.1" stroke="#2a2a2a" stroke-width="0.95"/>
<circle cx="128.64" cy="623.2" r="0.45" fill="#444"/>
<line x1="142.81" y1="524.3" x2="142.81" y2="524.55" stroke="#666" stroke-width="0.7"/>
<line x1="142.81" y1="525.25" x2="142.81" y2="525.5" stroke="#666" stroke-width="0.7"/>
<rect x="140.06" y="524.55" width="5.5" height="0.7" fill="#ffffff" stroke="#555" stroke-width="0.55"/>
<line x1="140.06" y1="524.9" x2="145.56" y2="524.9" stroke="#2a2a2a" stroke-width="0.95"/>
<line x1="148.77" y1="525.3" x2="148.77" y2="525.55" stroke="#666" stroke-width="0.7"/>
<line x1="148.77" y1="526.25" x2="148.77" y2="526.5" stroke="#666" stroke-width="0.7"/>
<rect x="146.02" y="525.55" width="5.5" height="0.7" fill="#ee0000" stroke="#555" stroke-width="0.55"/>
<line x1="146.02" y1="525.9" x2="151.52" y2="525.9" stroke="#2a2a2a" stroke-width="0.95"/>
<line x1="154.73" y1="545.1" x2="154.73" y2="548.2" stroke="#666" stroke-width="0.7"/>
<line x1="154.73" y1="557.5" x2="154.73" y2="567.8" stroke="#666" stroke-width="0.7"/>
<rect x="151.98" y="548.2" width="5.5" height="9.3" fill="#3fb63f" stroke="#555" stroke-width="0.55"/>
<line x1="151.98" y1="552.3" x2="157.48" y2="552.3" stroke="#2a2a2a" stroke-width="0.95"/>
<line x1="160.69" y1="619.4" x2="160.69" y2="620.9" stroke="#666" stroke-width="0.7"/>
<line x1="160.69" y1="624.6" x2="160.69" y2="626.7" stroke="#666" stroke-width="0.7"/>
<rect x="157.94" y="620.9" width="5.5" height="3.7" fill="#1a9cbc" stroke="#555" stroke-width="0.55"/>
<line x1="157.94" y1="622.9" x2="163.44" y2="622.9" stroke="#2a2a2a" stroke-width="0.95"/>
<line x1="174.86" y1="524.5" x2="174.86" y2="524.75" stroke="#666" stroke-width="0.7"/>
<line x1="174.86" y1="525.45" x2="174.86" y2="525.7" stroke="#666" stroke-width="0.7"/>
<rect x="172.11" y="524.75" width="5.5" height="0.7" fill="#ffffff" stroke="#555" stroke-width="0.55"/>
<line x1="172.11" y1="525.1" x2="177.61" y2="525.1" stroke="#2a2a2a" stroke-width="0.95"/>
<line x1="180.82" y1="524.5" x2="180.82" y2="524.75" stroke="#666" stroke-width="0.7"/>
<line x1="180.82" y1="525.45" x2="180.82" y2="525.7" stroke="#666" stroke-width="0.7"/>
<rect x="178.07" y="524.75" width="5.5" height="0.7" fill="#ee0000" stroke="#555" stroke-width="0.55"/>
<line x1="178.07" y1="525.1" x2="183.57" y2="525.1" stroke="#2a2a2a" stroke-width="0.95"/>
<line x1="186.78" y1="533.1" x2="186.78" y2="535.2" stroke="#666" stroke-width="0.7"/>
<line x1="186.78" y1="543.5" x2="186.78" y2="552.3" stroke="#666" stroke-width="0.7"/>
<rect x="184.03" y="535.2" width="5.5" height="8.3" fill="#3fb63f" stroke="#555" stroke-width="0.55"/>
<line x1="184.03" y1="538.3" x2="189.53" y2="538.3" stroke="#2a2a2a" stroke-width="0.95"/>
<line x1="192.74" y1="605.4" x2="192.74" y2="611.8" stroke="#666" stroke-width="0.7"/>
<line x1="192.74" y1="616.3" x2="192.74" y2="620.5" stroke="#666" stroke-width="0.7"/>
<rect x="189.99" y="611.8" width="5.5" height="4.5" fill="#1a9cbc" stroke="#555" stroke-width="0.55"/>
<line x1="189.99" y1="613.2" x2="195.49" y2="613.2" stroke="#2a2a2a" stroke-width="0.95"/>
<line x1="206.91" y1="527.4" x2="206.91" y2="527.65" stroke="#666" stroke-width="0.7"/>
<line x1="206.91" y1="528.35" x2="206.91" y2="528.6" stroke="#666" stroke-width="0.7"/>
<rect x="204.16" y="527.65" width="5.5" height="0.7" fill="#ffffff" stroke="#555" stroke-width="0.55"/>
<line x1="204.16" y1="528" x2="209.66" y2="528" stroke="#2a2a2a" stroke-width="0.95"/>
<line x1="212.87" y1="527" x2="212.87" y2="527.25" stroke="#666" stroke-width="0.7"/>
<line x1="212.87" y1="527.95" x2="212.87" y2="528.2" stroke="#666" stroke-width="0.7"/>
<rect x="210.12" y="527.25" width="5.5" height="0.7" fill="#ee0000" stroke="#555" stroke-width="0.55"/>
<line x1="210.12" y1="527.6" x2="215.62" y2="527.6" stroke="#2a2a2a" stroke-width="0.95"/>
<line x1="218.83" y1="530.6" x2="218.83" y2="531.7" stroke="#666" stroke-width="0.7"/>
<line x1="218.83" y1="533.7" x2="218.83" y2="535.8" stroke="#666" stroke-width="0.7"/>
<rect x="216.08" y="531.7" width="5.5" height="2" fill="#3fb63f" stroke="#555" stroke-width="0.55"/>
<line x1="216.08" y1="532.7" x2="221.58" y2="532.7" stroke="#2a2a2a" stroke-width="0.95"/>
<circle cx="218.83" cy="537.3" r="0.45" fill="#444"/>
<line x1="224.79" y1="591" x2="224.79" y2="593" stroke="#666" stroke-width="0.7"/>
<line x1="224.79" y1="595.7" x2="224.79" y2="598.4" stroke="#666" stroke-width="0.7"/>
<rect x="222.04" y="593" width="5.5" height="2.7" fill="#1a9cbc" stroke="#555" stroke-width="0.55"/>
<line x1="222.04" y1="594.2" x2="227.54" y2="594.2" stroke="#2a2a2a" stroke-width="0.95"/>
<circle cx="224.79" cy="588" r="0.45" fill="#444"/>
<text x="240.6" y="559.8" font-size="12.3" fill="#000">scenario</text>
<line x1="243.85" y1="567.4" x2="243.85" y2="574.2" stroke="#777" stroke-width="0.5"/>
<rect x="241.4" y="568.6" width="4.9" height="4.4" fill="#ffffff" stroke="#555" stroke-width="0.5"/>
<line x1="241.4" y1="570.8" x2="246.3" y2="570.8" stroke="#333" stroke-width="0.8"/>
<text x="253.2" y="574.2" font-size="10" fill="#000">L0</text>
<line x1="243.85" y1="576.05" x2="243.85" y2="582.85" stroke="#777" stroke-width="0.5"/>
<rect x="241.4" y="577.25" width="4.9" height="4.4" fill="#ee0000" stroke="#555" stroke-width="0.5"/>
<line x1="241.4" y1="579.45" x2="246.3" y2="579.45" stroke="#333" stroke-width="0.8"/>
<text x="253.2" y="582.85" font-size="10" fill="#000">L1</text>
<line x1="243.85" y1="584.8" x2="243.85" y2="591.6" stroke="#777" stroke-width="0.5"/>
<rect x="241.4" y="586" width="4.9" height="4.4" fill="#3fb63f" stroke="#555" stroke-width="0.5"/>
<line x1="241.4" y1="588.2" x2="246.3" y2="588.2" stroke="#333" stroke-width="0.8"/>
<text x="253.2" y="591.6" font-size="10" fill="#000">L2</text>
<line x1="243.85" y1="593.2" x2="243.85" y2="600" stroke="#777" stroke-width="0.5"/>
<rect x="241.4" y="594.4" width="4.9" height="4.4" fill="#1a9cbc" stroke="#555" stroke-width="0.5"/>
<line x1="241.4" y1="596.6" x2="246.3" y2="596.6" stroke="#333" stroke-width="0.8"/>
<text x="253.2" y="600" font-size="10" fill="#000">L3</text>
<text x="326.5" y="480.3" font-size="19.6" font-weight="bold" fill="#000">F</text>
<rect x="326.4" y="504.5" width="94.85" height="50.1" fill="#fff"/>
<line x1="326.4" y1="545.27" x2="421.25" y2="545.27" stroke="#f3f3f3" stroke-width="0.6"/>
<line x1="326.4" y1="530.83" x2="421.25" y2="530.83" stroke="#f3f3f3" stroke-width="0.6"/>
<line x1="326.4" y1="516.38" x2="421.25" y2="516.38" stroke="#f3f3f3" stroke-width="0.6"/>
<line x1="342.5" y1="504.5" x2="342.5" y2="554.6" stroke="#f3f3f3" stroke-width="0.6"/>
<line x1="372.4" y1="504.5" x2="372.4" y2="554.6" stroke="#f3f3f3" stroke-width="0.6"/>
<line x1="402.3" y1="504.5" x2="402.3" y2="554.6" stroke="#f3f3f3" stroke-width="0.6"/>
<line x1="326.4" y1="552.5" x2="421.25" y2="552.5" stroke="#e8e8e8" stroke-width="1"/>
<line x1="326.4" y1="538.05" x2="421.25" y2="538.05" stroke="#e8e8e8" stroke-width="1"/>
<line x1="326.4" y1="523.6" x2="421.25" y2="523.6" stroke="#e8e8e8" stroke-width="1"/>
<line x1="326.4" y1="509.15" x2="421.25" y2="509.15" stroke="#e8e8e8" stroke-width="1"/>
<line x1="327.55" y1="504.5" x2="327.55" y2="554.6" stroke="#e8e8e8" stroke-width="1"/>
<line x1="357.45" y1="504.5" x2="357.45" y2="554.6" stroke="#e8e8e8" stroke-width="1"/>
<line x1="387.35" y1="504.5" x2="387.35" y2="554.6" stroke="#e8e8e8" stroke-width="1"/>
<line x1="417.25" y1="504.5" x2="417.25" y2="554.6" stroke="#e8e8e8" stroke-width="1"/>
<polyline points="336.52,548.35 339.51,546.89 342.5,546.89 345.49,542.8 348.48,543.24 351.47,547.62 354.46,544.7 357.45,546.16 360.44,545.43 366.42,545.43 369.41,545.43 372.4,546.89 378.38,547.62 387.35,549.08 402.3,551.27 417.25,552.44" fill="none" stroke="#2c5aa8" stroke-width="1.1" stroke-dasharray="3.4,2.8" stroke-linejoin="round"/>
<polyline points="336.52,548.35 339.51,546.6 345.49,547.62 351.47,548.35 354.46,546.89 360.44,547.18 366.42,546.6 372.4,547.62 378.38,548.06 387.35,549.52 393.33,549.08 402.3,550.98 417.25,552.44" fill="none" stroke="#e53030" stroke-width="1.1" stroke-linejoin="round"/>
<polyline points="336.52,549.08 339.51,548.06 345.49,548.35 351.47,549.81 357.45,546.89 360.44,548.35 366.42,547.62 372.4,548.35 378.38,548.64 387.35,549.52 402.3,550.98 417.25,552.44" fill="none" stroke="#3cb43c" stroke-width="1.1" stroke-linejoin="round"/>
<polyline points="330.54,552.5 333.53,552.5 336.52,549.52 339.51,549.08 342.5,549.81 345.49,550.54 348.48,550.54 351.47,552.5 417.25,552.5" fill="none" stroke="#30a8c8" stroke-width="1.35" stroke-linejoin="round"/>
<line x1="326.4" y1="549.61" x2="421.25" y2="549.61" stroke="#151515" stroke-width="1.7" stroke-dasharray="4.85,5.25" stroke-dashoffset="9.6"/>
<rect x="326.4" y="504.5" width="94.85" height="50.1" fill="none" stroke="#4a4a4a" stroke-width="0.9"/>
<rect x="326.4" y="486.6" width="94.85" height="17.9" fill="#d9d9d9" stroke="#4a4a4a" stroke-width="0.9"/>
<line x1="326.4" y1="504.5" x2="421.25" y2="504.5" stroke="#4a4a4a" stroke-width="1.8"/>
<text x="374.12" y="498.95" font-size="10.5" fill="#1a1a1a" text-anchor="middle">10</text>
<line x1="327.55" y1="554.6" x2="327.55" y2="557.4" stroke="#1a1a1a" stroke-width="1.15"/>
<text x="327.55" y="568.7" font-size="12.5" fill="#1e1e1e" text-anchor="middle">0</text>
<line x1="357.45" y1="554.6" x2="357.45" y2="557.4" stroke="#1a1a1a" stroke-width="1.15"/>
<text x="357.45" y="568.7" font-size="12.5" fill="#1e1e1e" text-anchor="middle">10</text>
<line x1="387.35" y1="554.6" x2="387.35" y2="557.4" stroke="#1a1a1a" stroke-width="1.15"/>
<text x="387.35" y="568.7" font-size="12.5" fill="#1e1e1e" text-anchor="middle">20</text>
<line x1="417.25" y1="554.6" x2="417.25" y2="557.4" stroke="#1a1a1a" stroke-width="1.15"/>
<text x="417.25" y="568.7" font-size="12.5" fill="#1e1e1e" text-anchor="middle">30</text>
<rect x="427.65" y="504.5" width="94.85" height="50.1" fill="#fff"/>
<line x1="427.65" y1="545.27" x2="522.5" y2="545.27" stroke="#f3f3f3" stroke-width="0.6"/>
<line x1="427.65" y1="530.83" x2="522.5" y2="530.83" stroke="#f3f3f3" stroke-width="0.6"/>
<line x1="427.65" y1="516.38" x2="522.5" y2="516.38" stroke="#f3f3f3" stroke-width="0.6"/>
<line x1="443.75" y1="504.5" x2="443.75" y2="554.6" stroke="#f3f3f3" stroke-width="0.6"/>
<line x1="473.65" y1="504.5" x2="473.65" y2="554.6" stroke="#f3f3f3" stroke-width="0.6"/>
<line x1="503.55" y1="504.5" x2="503.55" y2="554.6" stroke="#f3f3f3" stroke-width="0.6"/>
<line x1="427.65" y1="552.5" x2="522.5" y2="552.5" stroke="#e8e8e8" stroke-width="1"/>
<line x1="427.65" y1="538.05" x2="522.5" y2="538.05" stroke="#e8e8e8" stroke-width="1"/>
<line x1="427.65" y1="523.6" x2="522.5" y2="523.6" stroke="#e8e8e8" stroke-width="1"/>
<line x1="427.65" y1="509.15" x2="522.5" y2="509.15" stroke="#e8e8e8" stroke-width="1"/>
<line x1="428.8" y1="504.5" x2="428.8" y2="554.6" stroke="#e8e8e8" stroke-width="1"/>
<line x1="458.7" y1="504.5" x2="458.7" y2="554.6" stroke="#e8e8e8" stroke-width="1"/>
<line x1="488.6" y1="504.5" x2="488.6" y2="554.6" stroke="#e8e8e8" stroke-width="1"/>
<line x1="518.5" y1="504.5" x2="518.5" y2="554.6" stroke="#e8e8e8" stroke-width="1"/>
<polyline points="434.78,541.49 437.77,539.88 441.66,542.51 443.75,543.97 448.23,540.76 451.82,543.24 456.01,544.26 461.69,546.89 467.67,547.33 473.65,549.08 488.6,551.56 518.5,552.44" fill="none" stroke="#2c5aa8" stroke-width="1.1" stroke-dasharray="3.4,2.8" stroke-linejoin="round"/>
<polyline points="434.78,541.49 437.77,539.88 443.75,546.89 448.83,542.22 451.82,543.24 456.01,544.26 458.1,544.7 461.69,547.33 467.67,547.33 472.15,549.08 476.64,550.54 488.6,551.56 518.5,552.44" fill="none" stroke="#e53030" stroke-width="1.1" stroke-linejoin="round"/>
<polyline points="434.78,541.49 437.77,539.59 443.75,546.89 448.83,543.97 452.42,547.33 456.01,544.7 461.69,547.33 464.68,549.08 469.16,547.33 473.65,549.52 488.6,551.56 503.55,552 518.5,552.44" fill="none" stroke="#3cb43c" stroke-width="1.1" stroke-linejoin="round"/>
<polyline points="431.79,552.44 434.78,541.34 437.77,540.76 443.75,552 446.74,552.5 518.5,552.5" fill="none" stroke="#30a8c8" stroke-width="1.35" stroke-linejoin="round"/>
<line x1="427.65" y1="549.61" x2="522.5" y2="549.61" stroke="#151515" stroke-width="1.7" stroke-dasharray="4.85,5.25" stroke-dashoffset="9.6"/>
<rect x="427.65" y="504.5" width="94.85" height="50.1" fill="none" stroke="#4a4a4a" stroke-width="0.9"/>
<rect x="427.65" y="486.6" width="94.85" height="17.9" fill="#d9d9d9" stroke="#4a4a4a" stroke-width="0.9"/>
<line x1="427.65" y1="504.5" x2="522.5" y2="504.5" stroke="#4a4a4a" stroke-width="1.8"/>
<text x="475.38" y="498.95" font-size="10.5" fill="#1a1a1a" text-anchor="middle">20</text>
<line x1="428.8" y1="554.6" x2="428.8" y2="557.4" stroke="#1a1a1a" stroke-width="1.15"/>
<text x="428.8" y="568.7" font-size="12.5" fill="#1e1e1e" text-anchor="middle">0</text>
<line x1="458.7" y1="554.6" x2="458.7" y2="557.4" stroke="#1a1a1a" stroke-width="1.15"/>
<text x="458.7" y="568.7" font-size="12.5" fill="#1e1e1e" text-anchor="middle">10</text>
<line x1="488.6" y1="554.6" x2="488.6" y2="557.4" stroke="#1a1a1a" stroke-width="1.15"/>
<text x="488.6" y="568.7" font-size="12.5" fill="#1e1e1e" text-anchor="middle">20</text>
<line x1="518.5" y1="554.6" x2="518.5" y2="557.4" stroke="#1a1a1a" stroke-width="1.15"/>
<text x="518.5" y="568.7" font-size="12.5" fill="#1e1e1e" text-anchor="middle">30</text>
<rect x="528.9" y="504.5" width="94.85" height="50.1" fill="#fff"/>
<line x1="528.9" y1="545.27" x2="623.75" y2="545.27" stroke="#f3f3f3" stroke-width="0.6"/>
<line x1="528.9" y1="530.83" x2="623.75" y2="530.83" stroke="#f3f3f3" stroke-width="0.6"/>
<line x1="528.9" y1="516.38" x2="623.75" y2="516.38" stroke="#f3f3f3" stroke-width="0.6"/>
<line x1="545" y1="504.5" x2="545" y2="554.6" stroke="#f3f3f3" stroke-width="0.6"/>
<line x1="574.9" y1="504.5" x2="574.9" y2="554.6" stroke="#f3f3f3" stroke-width="0.6"/>
<line x1="604.8" y1="504.5" x2="604.8" y2="554.6" stroke="#f3f3f3" stroke-width="0.6"/>
<line x1="528.9" y1="552.5" x2="623.75" y2="552.5" stroke="#e8e8e8" stroke-width="1"/>
<line x1="528.9" y1="538.05" x2="623.75" y2="538.05" stroke="#e8e8e8" stroke-width="1"/>
<line x1="528.9" y1="523.6" x2="623.75" y2="523.6" stroke="#e8e8e8" stroke-width="1"/>
<line x1="528.9" y1="509.15" x2="623.75" y2="509.15" stroke="#e8e8e8" stroke-width="1"/>
<line x1="530.05" y1="504.5" x2="530.05" y2="554.6" stroke="#e8e8e8" stroke-width="1"/>
<line x1="559.95" y1="504.5" x2="559.95" y2="554.6" stroke="#e8e8e8" stroke-width="1"/>
<line x1="589.85" y1="504.5" x2="589.85" y2="554.6" stroke="#e8e8e8" stroke-width="1"/>
<line x1="619.75" y1="504.5" x2="619.75" y2="554.6" stroke="#e8e8e8" stroke-width="1"/>
<polyline points="536.03,538.57 539.02,538.86 543.5,542.51 549.48,541.34 553.97,542.8 557.26,542.95 561.44,546.16 565.93,550.25 570.41,549.81 574.9,550.25 580.88,551.56 619.75,552.44" fill="none" stroke="#2c5aa8" stroke-width="1.1" stroke-dasharray="3.4,2.8" stroke-linejoin="round"/>
<polyline points="536.03,538.42 539.02,538.42 545.6,545.14 551.28,541.78 554.27,543.24 557.26,542.95 561.44,546.6 565.93,550.25 570.41,549.81 574.9,550.25 580.88,551.56 619.75,552.44" fill="none" stroke="#e53030" stroke-width="1.1" stroke-linejoin="round"/>
<polyline points="536.03,538.57 539.02,538.57 545.6,545.43 550.68,542.95 553.97,546.16 557.26,543.24 562.34,546.89 565.93,550.25 574.9,550.83 589.85,551.85 619.75,552.44" fill="none" stroke="#3cb43c" stroke-width="1.1" stroke-linejoin="round"/>
<polyline points="533.04,552.44 536.03,539.3 539.02,540.03 545,552 547.99,552.5 619.75,552.5" fill="none" stroke="#30a8c8" stroke-width="1.35" stroke-linejoin="round"/>
<line x1="528.9" y1="549.61" x2="623.75" y2="549.61" stroke="#151515" stroke-width="1.7" stroke-dasharray="4.85,5.25" stroke-dashoffset="9.6"/>
<rect x="528.9" y="504.5" width="94.85" height="50.1" fill="none" stroke="#4a4a4a" stroke-width="0.9"/>
<rect x="528.9" y="486.6" width="94.85" height="17.9" fill="#d9d9d9" stroke="#4a4a4a" stroke-width="0.9"/>
<line x1="528.9" y1="504.5" x2="623.75" y2="504.5" stroke="#4a4a4a" stroke-width="1.8"/>
<text x="576.62" y="498.95" font-size="10.5" fill="#1a1a1a" text-anchor="middle">30</text>
<line x1="530.05" y1="554.6" x2="530.05" y2="557.4" stroke="#1a1a1a" stroke-width="1.15"/>
<text x="530.05" y="568.7" font-size="12.5" fill="#1e1e1e" text-anchor="middle">0</text>
<line x1="559.95" y1="554.6" x2="559.95" y2="557.4" stroke="#1a1a1a" stroke-width="1.15"/>
<text x="559.95" y="568.7" font-size="12.5" fill="#1e1e1e" text-anchor="middle">10</text>
<line x1="589.85" y1="554.6" x2="589.85" y2="557.4" stroke="#1a1a1a" stroke-width="1.15"/>
<text x="589.85" y="568.7" font-size="12.5" fill="#1e1e1e" text-anchor="middle">20</text>
<line x1="619.75" y1="554.6" x2="619.75" y2="557.4" stroke="#1a1a1a" stroke-width="1.15"/>
<text x="619.75" y="568.7" font-size="12.5" fill="#1e1e1e" text-anchor="middle">30</text>
<line x1="323.2" y1="552.5" x2="326.4" y2="552.5" stroke="#1a1a1a" stroke-width="1.15"/>
<text x="320.9" y="556.9" font-size="12.5" fill="#1e1e1e" text-anchor="end">0</text>
<line x1="323.2" y1="538.05" x2="326.4" y2="538.05" stroke="#1a1a1a" stroke-width="1.15"/>
<text x="320.9" y="542.45" font-size="12.5" fill="#1e1e1e" text-anchor="end">5</text>
<line x1="323.2" y1="523.6" x2="326.4" y2="523.6" stroke="#1a1a1a" stroke-width="1.15"/>
<text x="320.9" y="528" font-size="12.5" fill="#1e1e1e" text-anchor="end">10</text>
<line x1="323.2" y1="509.15" x2="326.4" y2="509.15" stroke="#1a1a1a" stroke-width="1.15"/>
<text x="320.9" y="513.55" font-size="12.5" fill="#1e1e1e" text-anchor="end">15</text>
<rect x="326.4" y="595.55" width="94.85" height="50.1" fill="#fff"/>
<line x1="326.4" y1="636.32" x2="421.25" y2="636.32" stroke="#f3f3f3" stroke-width="0.6"/>
<line x1="326.4" y1="621.88" x2="421.25" y2="621.88" stroke="#f3f3f3" stroke-width="0.6"/>
<line x1="326.4" y1="607.42" x2="421.25" y2="607.42" stroke="#f3f3f3" stroke-width="0.6"/>
<line x1="342.5" y1="595.55" x2="342.5" y2="645.65" stroke="#f3f3f3" stroke-width="0.6"/>
<line x1="372.4" y1="595.55" x2="372.4" y2="645.65" stroke="#f3f3f3" stroke-width="0.6"/>
<line x1="402.3" y1="595.55" x2="402.3" y2="645.65" stroke="#f3f3f3" stroke-width="0.6"/>
<line x1="326.4" y1="643.55" x2="421.25" y2="643.55" stroke="#e8e8e8" stroke-width="1"/>
<line x1="326.4" y1="629.1" x2="421.25" y2="629.1" stroke="#e8e8e8" stroke-width="1"/>
<line x1="326.4" y1="614.65" x2="421.25" y2="614.65" stroke="#e8e8e8" stroke-width="1"/>
<line x1="326.4" y1="600.2" x2="421.25" y2="600.2" stroke="#e8e8e8" stroke-width="1"/>
<line x1="327.55" y1="595.55" x2="327.55" y2="645.65" stroke="#e8e8e8" stroke-width="1"/>
<line x1="357.45" y1="595.55" x2="357.45" y2="645.65" stroke="#e8e8e8" stroke-width="1"/>
<line x1="387.35" y1="595.55" x2="387.35" y2="645.65" stroke="#e8e8e8" stroke-width="1"/>
<line x1="417.25" y1="595.55" x2="417.25" y2="645.65" stroke="#e8e8e8" stroke-width="1"/>
<polyline points="333.53,625.38 337.42,628.73 342.2,634.14 347.88,632.24 353.86,633.99 357.45,639.39 363.43,642.02 369.41,642.9 417.25,643.55" fill="none" stroke="#2c5aa8" stroke-width="1.1" stroke-dasharray="3.4,2.8" stroke-linejoin="round"/>
<polyline points="333.53,625.38 337.42,628.73 342.2,636.33 347.88,633.41 353.86,634.43 357.45,639.39 363.43,642.02 369.41,642.9 417.25,643.55" fill="none" stroke="#e53030" stroke-width="1.1" stroke-linejoin="round"/>
<polyline points="333.53,625.67 337.42,629.03 342.2,639.68 347.88,636.03 352.37,637.93 355.06,635.6 358.65,639.39 363.43,642.02 372.4,642.46 417.25,643.55" fill="none" stroke="#3cb43c" stroke-width="1.1" stroke-linejoin="round"/>
<polyline points="330.54,643.48 333.53,626.54 337.42,630.34 342.2,643.04 343.99,643.55 417.25,643.55" fill="none" stroke="#30a8c8" stroke-width="1.35" stroke-linejoin="round"/>
<line x1="326.4" y1="640.66" x2="421.25" y2="640.66" stroke="#151515" stroke-width="1.7" stroke-dasharray="4.85,5.25" stroke-dashoffset="9.6"/>
<rect x="326.4" y="595.55" width="94.85" height="50.1" fill="none" stroke="#4a4a4a" stroke-width="0.9"/>
<rect x="326.4" y="577.65" width="94.85" height="17.9" fill="#d9d9d9" stroke="#4a4a4a" stroke-width="0.9"/>
<line x1="326.4" y1="595.55" x2="421.25" y2="595.55" stroke="#4a4a4a" stroke-width="1.8"/>
<text x="374.12" y="590" font-size="10.5" fill="#1a1a1a" text-anchor="middle">40</text>
<line x1="327.55" y1="645.65" x2="327.55" y2="648.45" stroke="#1a1a1a" stroke-width="1.15"/>
<text x="327.55" y="659.75" font-size="12.5" fill="#1e1e1e" text-anchor="middle">0</text>
<line x1="357.45" y1="645.65" x2="357.45" y2="648.45" stroke="#1a1a1a" stroke-width="1.15"/>
<text x="357.45" y="659.75" font-size="12.5" fill="#1e1e1e" text-anchor="middle">10</text>
<line x1="387.35" y1="645.65" x2="387.35" y2="648.45" stroke="#1a1a1a" stroke-width="1.15"/>
<text x="387.35" y="659.75" font-size="12.5" fill="#1e1e1e" text-anchor="middle">20</text>
<line x1="417.25" y1="645.65" x2="417.25" y2="648.45" stroke="#1a1a1a" stroke-width="1.15"/>
<text x="417.25" y="659.75" font-size="12.5" fill="#1e1e1e" text-anchor="middle">30</text>
<rect x="427.65" y="595.55" width="94.85" height="50.1" fill="#fff"/>
<line x1="427.65" y1="636.32" x2="522.5" y2="636.32" stroke="#f3f3f3" stroke-width="0.6"/>
<line x1="427.65" y1="621.88" x2="522.5" y2="621.88" stroke="#f3f3f3" stroke-width="0.6"/>
<line x1="427.65" y1="607.42" x2="522.5" y2="607.42" stroke="#f3f3f3" stroke-width="0.6"/>
<line x1="443.75" y1="595.55" x2="443.75" y2="645.65" stroke="#f3f3f3" stroke-width="0.6"/>
<line x1="473.65" y1="595.55" x2="473.65" y2="645.65" stroke="#f3f3f3" stroke-width="0.6"/>
<line x1="503.55" y1="595.55" x2="503.55" y2="645.65" stroke="#f3f3f3" stroke-width="0.6"/>
<line x1="427.65" y1="643.55" x2="522.5" y2="643.55" stroke="#e8e8e8" stroke-width="1"/>
<line x1="427.65" y1="629.1" x2="522.5" y2="629.1" stroke="#e8e8e8" stroke-width="1"/>
<line x1="427.65" y1="614.65" x2="522.5" y2="614.65" stroke="#e8e8e8" stroke-width="1"/>
<line x1="427.65" y1="600.2" x2="522.5" y2="600.2" stroke="#e8e8e8" stroke-width="1"/>
<line x1="428.8" y1="595.55" x2="428.8" y2="645.65" stroke="#e8e8e8" stroke-width="1"/>
<line x1="458.7" y1="595.55" x2="458.7" y2="645.65" stroke="#e8e8e8" stroke-width="1"/>
<line x1="488.6" y1="595.55" x2="488.6" y2="645.65" stroke="#e8e8e8" stroke-width="1"/>
<line x1="518.5" y1="595.55" x2="518.5" y2="645.65" stroke="#e8e8e8" stroke-width="1"/>
<polyline points="431.79,643.33 434.48,615.74 438.37,623.63 441.96,635.6 443.9,637.79 449.43,633.7 454.07,637.64 455.56,637.64 459.3,640.85 463.18,642.46 470.66,643.19 518.5,643.55" fill="none" stroke="#2c5aa8" stroke-width="1.1" stroke-dasharray="3.4,2.8" stroke-linejoin="round"/>
<polyline points="431.79,643.33 434.48,615.74 438.37,623.63 441.66,634.87 443.9,638.22 449.43,634.14 454.07,637.64 455.56,637.64 459.3,640.85 463.18,642.46 470.66,643.19 518.5,643.55" fill="none" stroke="#e53030" stroke-width="1.1" stroke-linejoin="round"/>
<polyline points="431.79,643.33 434.48,615.74 438.37,623.77 441.66,635.6 443.9,640.12 449.43,636.03 453.32,637.49 456.01,636.76 459.3,640.85 463.18,642.46 503.55,643.33 518.5,643.55" fill="none" stroke="#3cb43c" stroke-width="1.1" stroke-linejoin="round"/>
<polyline points="431.94,643.04 434.48,615.74 438.37,624.06 444.35,643.04 445.24,643.55 518.5,643.55" fill="none" stroke="#30a8c8" stroke-width="1.35" stroke-linejoin="round"/>
<line x1="427.65" y1="640.66" x2="522.5" y2="640.66" stroke="#151515" stroke-width="1.7" stroke-dasharray="4.85,5.25" stroke-dashoffset="9.6"/>
<rect x="427.65" y="595.55" width="94.85" height="50.1" fill="none" stroke="#4a4a4a" stroke-width="0.9"/>
<rect x="427.65" y="577.65" width="94.85" height="17.9" fill="#d9d9d9" stroke="#4a4a4a" stroke-width="0.9"/>
<line x1="427.65" y1="595.55" x2="522.5" y2="595.55" stroke="#4a4a4a" stroke-width="1.8"/>
<text x="475.38" y="590" font-size="10.5" fill="#1a1a1a" text-anchor="middle">60</text>
<line x1="428.8" y1="645.65" x2="428.8" y2="648.45" stroke="#1a1a1a" stroke-width="1.15"/>
<text x="428.8" y="659.75" font-size="12.5" fill="#1e1e1e" text-anchor="middle">0</text>
<line x1="458.7" y1="645.65" x2="458.7" y2="648.45" stroke="#1a1a1a" stroke-width="1.15"/>
<text x="458.7" y="659.75" font-size="12.5" fill="#1e1e1e" text-anchor="middle">10</text>
<line x1="488.6" y1="645.65" x2="488.6" y2="648.45" stroke="#1a1a1a" stroke-width="1.15"/>
<text x="488.6" y="659.75" font-size="12.5" fill="#1e1e1e" text-anchor="middle">20</text>
<line x1="518.5" y1="645.65" x2="518.5" y2="648.45" stroke="#1a1a1a" stroke-width="1.15"/>
<text x="518.5" y="659.75" font-size="12.5" fill="#1e1e1e" text-anchor="middle">30</text>
<rect x="528.9" y="595.55" width="94.85" height="50.1" fill="#fff"/>
<line x1="528.9" y1="636.32" x2="623.75" y2="636.32" stroke="#f3f3f3" stroke-width="0.6"/>
<line x1="528.9" y1="621.88" x2="623.75" y2="621.88" stroke="#f3f3f3" stroke-width="0.6"/>
<line x1="528.9" y1="607.42" x2="623.75" y2="607.42" stroke="#f3f3f3" stroke-width="0.6"/>
<line x1="545" y1="595.55" x2="545" y2="645.65" stroke="#f3f3f3" stroke-width="0.6"/>
<line x1="574.9" y1="595.55" x2="574.9" y2="645.65" stroke="#f3f3f3" stroke-width="0.6"/>
<line x1="604.8" y1="595.55" x2="604.8" y2="645.65" stroke="#f3f3f3" stroke-width="0.6"/>
<line x1="528.9" y1="643.55" x2="623.75" y2="643.55" stroke="#e8e8e8" stroke-width="1"/>
<line x1="528.9" y1="629.1" x2="623.75" y2="629.1" stroke="#e8e8e8" stroke-width="1"/>
<line x1="528.9" y1="614.65" x2="623.75" y2="614.65" stroke="#e8e8e8" stroke-width="1"/>
<line x1="528.9" y1="600.2" x2="623.75" y2="600.2" stroke="#e8e8e8" stroke-width="1"/>
<line x1="530.05" y1="595.55" x2="530.05" y2="645.65" stroke="#e8e8e8" stroke-width="1"/>
<line x1="559.95" y1="595.55" x2="559.95" y2="645.65" stroke="#e8e8e8" stroke-width="1"/>
<line x1="589.85" y1="595.55" x2="589.85" y2="645.65" stroke="#e8e8e8" stroke-width="1"/>
<line x1="619.75" y1="595.55" x2="619.75" y2="645.65" stroke="#e8e8e8" stroke-width="1"/>
<polyline points="533.04,643.48 536.27,609.32 539.02,624.65 542.31,636.62 545.3,639.25 550.98,636.33 554.57,640.12 558.45,642.46 565.93,643.04 619.75,643.55" fill="none" stroke="#2c5aa8" stroke-width="1.1" stroke-dasharray="3.4,2.8" stroke-linejoin="round"/>
<polyline points="533.04,643.48 536.27,603.33 539.02,623.92 542.31,636.03 545.3,639.68 550.98,636.33 554.57,640.12 558.45,642.46 565.93,643.04 619.75,643.55" fill="none" stroke="#e53030" stroke-width="1.1" stroke-linejoin="round"/>
<polyline points="533.04,643.48 536.27,603.63 539.02,624.21 542.31,636.33 545.3,640.12 550.98,635.74 554.57,639.98 558.45,642.46 565.93,643.04 619.75,643.55" fill="none" stroke="#3cb43c" stroke-width="1.1" stroke-linejoin="round"/>
<polyline points="533.25,643.48 536.27,604.21 539.02,625.38 542.31,637.79 545.3,643.04 546.5,643.55 619.75,643.55" fill="none" stroke="#30a8c8" stroke-width="1.35" stroke-linejoin="round"/>
<line x1="528.9" y1="640.66" x2="623.75" y2="640.66" stroke="#151515" stroke-width="1.7" stroke-dasharray="4.85,5.25" stroke-dashoffset="9.6"/>
<rect x="528.9" y="595.55" width="94.85" height="50.1" fill="none" stroke="#4a4a4a" stroke-width="0.9"/>
<rect x="528.9" y="577.65" width="94.85" height="17.9" fill="#d9d9d9" stroke="#4a4a4a" stroke-width="0.9"/>
<line x1="528.9" y1="595.55" x2="623.75" y2="595.55" stroke="#4a4a4a" stroke-width="1.8"/>
<text x="576.62" y="590" font-size="10.5" fill="#1a1a1a" text-anchor="middle">120</text>
<line x1="530.05" y1="645.65" x2="530.05" y2="648.45" stroke="#1a1a1a" stroke-width="1.15"/>
<text x="530.05" y="659.75" font-size="12.5" fill="#1e1e1e" text-anchor="middle">0</text>
<line x1="559.95" y1="645.65" x2="559.95" y2="648.45" stroke="#1a1a1a" stroke-width="1.15"/>
<text x="559.95" y="659.75" font-size="12.5" fill="#1e1e1e" text-anchor="middle">10</text>
<line x1="589.85" y1="645.65" x2="589.85" y2="648.45" stroke="#1a1a1a" stroke-width="1.15"/>
<text x="589.85" y="659.75" font-size="12.5" fill="#1e1e1e" text-anchor="middle">20</text>
<line x1="619.75" y1="645.65" x2="619.75" y2="648.45" stroke="#1a1a1a" stroke-width="1.15"/>
<text x="619.75" y="659.75" font-size="12.5" fill="#1e1e1e" text-anchor="middle">30</text>
<line x1="323.2" y1="643.55" x2="326.4" y2="643.55" stroke="#1a1a1a" stroke-width="1.15"/>
<text x="320.9" y="647.95" font-size="12.5" fill="#1e1e1e" text-anchor="end">0</text>
<line x1="323.2" y1="629.1" x2="326.4" y2="629.1" stroke="#1a1a1a" stroke-width="1.15"/>
<text x="320.9" y="633.5" font-size="12.5" fill="#1e1e1e" text-anchor="end">5</text>
<line x1="323.2" y1="614.65" x2="326.4" y2="614.65" stroke="#1a1a1a" stroke-width="1.15"/>
<text x="320.9" y="619.05" font-size="12.5" fill="#1e1e1e" text-anchor="end">10</text>
<line x1="323.2" y1="600.2" x2="326.4" y2="600.2" stroke="#1a1a1a" stroke-width="1.15"/>
<text x="320.9" y="604.6" font-size="12.5" fill="#1e1e1e" text-anchor="end">15</text>
<text x="475.3" y="674.5" font-size="13.8" fill="#000" text-anchor="middle">days</text>
<text transform="translate(302.8,574.9) rotate(-90)" font-size="14.2" fill="#000" text-anchor="middle">Rt</text>
<text x="642.5" y="559.4" font-size="12.3" fill="#000">scenario</text>
<line x1="642.9" y1="570.7" x2="648.8" y2="570.7" stroke="#6687c2" stroke-width="1.6"/>
<text x="655.6" y="574.2" font-size="10" fill="#000">L0</text>
<line x1="642.9" y1="579.3" x2="648.8" y2="579.3" stroke="#e84444" stroke-width="1.2"/>
<text x="655.6" y="582.8" font-size="10" fill="#000">L1</text>
<line x1="642.9" y1="588.1" x2="648.8" y2="588.1" stroke="#55c055" stroke-width="1.2"/>
<text x="655.6" y="591.6" font-size="10" fill="#000">L2</text>
<line x1="642.9" y1="596.9" x2="648.8" y2="596.9" stroke="#6ac4da" stroke-width="1.2"/>
<text x="655.6" y="600.4" font-size="10" fill="#000">L3</text>
</svg>
</body></html>
